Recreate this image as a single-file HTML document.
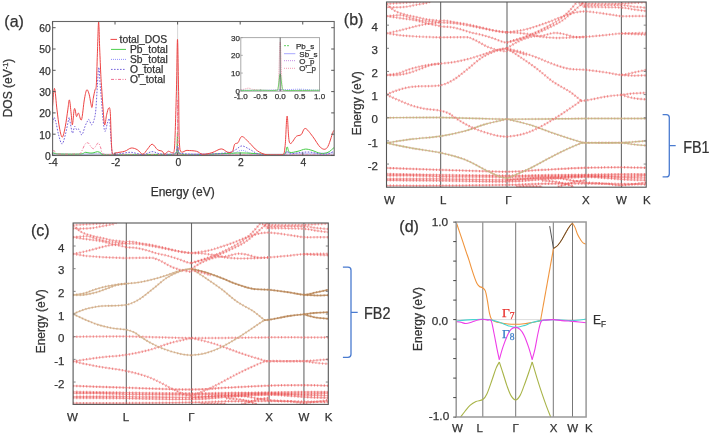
<!DOCTYPE html><html><head><meta charset="utf-8"><style>html,body{margin:0;padding:0;background:#fff;overflow:hidden;}svg{display:block;font-family:"Liberation Sans", sans-serif;}svg{will-change:transform}text{stroke-width:0.25px;}</style></head><body>
<svg width="709" height="433" viewBox="0 0 709 433">
<rect width="709" height="433" fill="#fff"/>
<defs><clipPath id="cb"><rect x="386.5" y="2" width="259.7" height="185.2"/></clipPath><clipPath id="cc"><rect x="73.1" y="223" width="255.2" height="181.4"/></clipPath></defs>
<line x1="177.6" y1="21.5" x2="177.6" y2="155.5" stroke="#999" stroke-width="0.8" stroke-dasharray="1 1"/>
<line x1="53" y1="154.3" x2="334" y2="154.3" stroke="#b8b8c8" stroke-width="1.2"/>
<path d="M52.5,153.37 C55.42,153.51 63.75,154.15 70,154.22 C76.25,154.29 85.23,153.94 90,153.8 C94.77,153.65 94.93,153.19 98.6,153.37 C102.27,153.55 103.43,154.68 112,154.86 C120.57,155 139.33,154.61 150,154.44 C160.67,154.26 171.42,155 176,153.8 C180.58,152.55 177,146.98 177.5,146.98 C178,146.98 175.25,152.66 179,153.8 C182.75,154.93 191.5,153.8 200,153.8 C208.5,153.8 223,154.36 230,153.8 C237,153.23 237.83,150.32 242,150.39 C246.17,150.46 248.17,153.48 255,154.22 C261.83,154.97 277.65,155 283,154.86 C288.35,154.65 284.27,153.19 287.1,152.94 C289.93,152.7 292.18,153.37 300,153.37 C307.82,153.37 328.33,153.01 334,152.94" fill="none" stroke="#8f8fff" stroke-width="0.9" stroke-linejoin="round" stroke-dasharray="1 1"/>
<path d="M52.5,152.73 C52.92,152.84 53.75,153.16 55,153.37 C56.25,153.58 55.8,153.9 60,154.01 C64.2,154.12 76,154.29 80.2,154.01 C84.4,153.72 83.73,152.48 85.2,152.31 C86.67,152.13 87.7,152.84 89,152.94 C90.3,153.05 91.6,153.16 93,152.94 C94.4,152.73 96.1,151.67 97.4,151.67 C98.7,151.67 99.83,152.45 100.8,152.94 C101.77,153.44 100,154.33 103.2,154.65 C106.4,154.97 110.53,154.9 120,154.86 C129.47,154.83 150.7,154.61 160,154.44 C169.3,154.26 172.88,155 175.8,153.8 C178.72,150.17 176.93,132.71 177.5,132.71 C178.07,132.71 175.45,150.14 179.2,153.8 C182.95,155 189.53,154.79 200,154.65 C210.47,154.51 230.33,152.91 242,152.94 C253.67,152.98 263,154.58 270,154.86 C277,155 281.15,155 284,154.65 C286.85,153.33 286.17,147.37 287.1,146.98 C288.03,146.59 287.78,151.59 289.6,152.31 C291.42,153.02 295.38,151.77 298,151.24 C300.62,150.71 302.97,149.25 305.3,149.11 C307.63,148.97 309.43,149.68 312,150.39 C314.57,151.1 318.03,153.05 320.7,153.37 C323.37,153.69 325.78,153.26 328,152.31 C330.22,151.35 333,148.4 334,147.62" fill="none" stroke="#44cc44" stroke-width="1.0" stroke-linejoin="round" />
<path d="M52.5,150.6 C52.92,150.71 54.25,150.71 55,151.24 C55.75,151.77 55.33,153.3 57,153.8 C58.67,154.29 62,154.19 65,154.22 C68,154.26 72.47,154.12 75,154.01 C77.53,153.9 78.5,155 80.2,153.58 C81.9,151.91 83.82,145.74 85.2,144 C86.58,142.26 87.53,142.65 88.5,143.15 C89.47,143.64 90.17,146.06 91,146.98 C91.83,147.9 92.75,148.75 93.5,148.68 C94.25,148.61 94.7,147.51 95.5,146.55 C96.3,145.6 97.42,142.68 98.3,142.93 C99.18,143.18 100.12,146.38 100.8,148.04 C101.48,149.71 100.87,151.84 102.4,152.94 C103.93,154.04 100.4,154.36 110,154.65 C119.6,154.93 149,154.86 160,154.65 C171,154.44 173.08,155 176,153.37 C178.92,144.28 177,100.12 177.5,100.12 C178,100.12 176.92,144.25 179,153.37 C181.08,155 164.17,154.61 190,154.86 C215.83,155 310,154.86 334,154.86" fill="none" stroke="#f07090" stroke-width="0.9" stroke-linejoin="round" stroke-dasharray="3 1.5 1 1.5"/>
<path d="M52.5,123.12 C52.75,122.17 53.4,117.37 54,117.37 C54.6,117.37 55.33,120.21 56.1,123.12 C56.87,126.03 57.62,131.36 58.6,134.84 C59.58,138.32 60.88,144 62,144 C63.12,144 64.2,138.89 65.3,134.84 C66.4,130.79 67.92,122.41 68.6,119.72 C69.28,117.02 68.9,116.95 69.4,118.65 C69.9,120.36 71.05,127.53 71.6,129.94 C72.15,132.35 72.18,133.7 72.7,133.13 C73.22,132.57 74,127.06 74.7,126.53 C75.4,126 76.18,129.48 76.9,129.94 C77.62,130.4 78.17,128.48 79,129.3 C79.83,130.12 80.87,135.41 81.9,134.84 C82.93,134.27 84.23,128.24 85.2,125.89 C86.17,123.55 87.05,121.81 87.7,120.78 C88.35,119.75 88.45,119.04 89.1,119.72 C89.75,120.39 90.77,124.83 91.6,124.83 C92.43,124.83 93.4,122.2 94.1,119.72 C94.8,117.23 95.25,115.67 95.8,109.92 C96.35,104.17 96.9,92.31 97.4,85.21 C97.9,78.11 98.33,67.32 98.8,67.32 C99.27,67.32 99.73,79.49 100.2,85.21 C100.67,90.93 101.15,96.11 101.6,101.61 C102.05,107.11 102.35,113.25 102.9,118.22 C103.45,123.19 104.15,130.61 104.9,131.43 C105.65,132.25 106.63,125.18 107.4,123.12 C108.17,121.06 108.95,117.12 109.5,119.08 C110.05,121.03 110.3,129.48 110.7,134.84 C111.1,140.2 111.48,148.01 111.9,151.24 C112.32,154.47 111.85,153.8 113.2,154.22 C114.55,154.65 117.03,154.12 120,153.8 C122.97,153.48 127.17,152.16 131,152.31 C134.83,152.45 139.5,154.75 143,154.65 C146.5,154.54 149.17,151.81 152,151.67 C154.83,151.52 156.67,153.37 160,153.8 C163.33,154.22 169.33,154.47 172,154.22 C174.67,153.97 175.08,153.69 176,152.31 C176.92,150.92 177,145.91 177.5,145.91 C178,145.91 177.75,150.99 179,152.31 C180.25,153.62 181.5,153.44 185,153.8 C188.5,154.15 195,154.44 200,154.44 C205,154.44 210,154.15 215,153.8 C220,153.44 226.5,153.02 230,152.31 C233.5,151.59 234,150.6 236,149.54 C238,148.47 239.67,145.91 242,145.91 C244.33,145.91 247.33,148.22 250,149.54 C252.67,150.85 254.67,152.87 258,153.8 C261.33,154.72 265.83,154.86 270,155.07 C274.17,155 280.15,155 283,155.07 C285.85,154.44 285.93,151.45 287.1,151.24 C288.27,151.03 287.85,153.58 290,153.8 C292.15,154.01 296.67,152.8 300,152.52 C303.33,152.23 306.67,151.84 310,152.09 C313.33,152.34 317,153.72 320,154.01 C323,154.29 325.67,154.26 328,153.8 C330.33,153.33 333,151.67 334,151.24" fill="none" stroke="#7462dc" stroke-width="1.0" stroke-linejoin="round" stroke-dasharray="1.6 1.4"/>
<path d="M52.5,106.51 C52.83,103.49 53.75,87.84 54.5,88.41 C55.25,88.97 56.17,103.32 57,109.92 C57.83,116.52 58.62,123.48 59.5,128.02 C60.38,132.57 61.33,137.43 62.3,137.18 C63.27,136.93 64.38,131.08 65.3,126.53 C66.22,121.99 67.12,114.36 67.8,109.92 C68.48,105.48 68.85,99.37 69.4,99.91 C69.95,100.44 70.6,108.96 71.1,113.11 C71.6,117.27 71.9,125.36 72.4,124.83 C72.9,124.3 73.63,112.44 74.1,109.92 C74.57,107.4 74.8,108.6 75.2,109.71 C75.6,110.81 75.95,115.95 76.5,116.52 C77.05,117.09 77.67,112.58 78.5,113.11 C79.33,113.65 80.53,121.92 81.5,119.72 C82.47,117.52 83.43,104.88 84.3,99.91 C85.17,94.94 85.9,90.85 86.7,89.9 C87.5,88.94 88.42,91.96 89.1,94.16 C89.78,96.36 90.32,100.9 90.8,103.1 C91.28,105.3 91.58,108.18 92,107.36 C92.42,106.55 92.8,101.11 93.3,98.2 C93.8,95.29 94.5,92.06 95,89.9 C95.5,87.73 95.9,91.32 96.3,85.21 C96.7,79.1 97.02,63.84 97.4,53.26 C97.78,42.68 98.22,22.45 98.6,21.74 C98.98,21.03 99.33,40.2 99.7,49 C100.07,57.8 100.48,68.17 100.8,74.56 C101.12,80.95 101.25,82.02 101.6,87.34 C101.95,92.67 102.4,100.26 102.9,106.51 C103.4,112.76 103.98,123.44 104.6,124.83 C105.22,126.21 105.93,117.59 106.6,114.82 C107.27,112.05 108,108.78 108.6,108.21 C109.2,107.65 109.77,106.44 110.2,111.41 C110.63,116.38 110.9,131.4 111.2,138.03 C111.5,144.67 111.67,148.54 112,151.24 C112.33,153.94 112.58,153.94 113.2,154.22 C113.82,154.51 113.77,153.44 115.7,152.94 C117.63,152.45 122.22,152.06 124.8,151.24 C127.38,150.42 129.1,148.29 131.2,148.04 C133.3,147.8 135.47,148.72 137.4,149.75 C139.33,150.78 141.12,154.33 142.8,154.22 C144.48,154.12 145.93,150.78 147.5,149.11 C149.07,147.44 150.52,144.1 152.2,144.21 C153.88,144.32 155.93,148.58 157.6,149.75 C159.27,150.92 161.03,150.49 162.2,151.24 C163.37,151.99 163.57,154.22 164.6,154.22 C165.63,154.22 167.12,151.49 168.4,151.24 C169.68,150.99 171.28,153.26 172.3,152.73 C173.32,152.2 173.82,155 174.5,148.04 C175.18,137.86 175.9,109.7 176.4,91.6 C176.9,73.5 177.13,39.42 177.5,39.42 C177.87,39.42 178.18,73.21 178.6,91.6 C179.02,109.99 178.58,139.95 180,149.75 C181.42,155 184.37,150.14 187.1,150.39 C189.83,150.64 193.82,150.6 196.4,151.24 C198.98,151.88 200.02,153.97 202.6,154.22 C205.18,154.47 208.8,153.62 211.9,152.73 C215,151.84 218.62,149 221.2,148.9 C223.78,148.79 225.55,151.63 227.4,152.09 C229.25,152.55 231.08,152.98 232.3,151.67 C233.52,150.35 233.75,145.7 234.7,144.21 C235.65,142.72 236.78,144 238,142.72 C239.22,141.44 240.12,136.54 242,136.54 C243.88,136.54 246.73,140.34 249.3,142.72 C251.87,145.1 254.42,148.79 257.4,150.81 C260.38,152.84 263.13,154.19 267.2,154.86 C271.27,155 278.83,155 281.8,154.86 C284.77,153.55 284.12,153.44 285,146.98 C285.88,140.52 286.33,116.8 287.1,116.09 C287.87,115.39 288.05,139.35 289.6,142.72 C291.15,146.09 294.47,137.68 296.4,136.33 C298.33,134.98 299.72,135.94 301.2,134.63 C302.68,133.31 303.4,128.17 305.3,128.45 C307.2,128.73 310.03,133.14 312.6,136.33 C315.17,139.53 318.27,145.74 320.7,147.62 C323.13,149.5 325.17,150.18 327.2,147.62 C329.23,145.06 331.77,135.05 332.9,132.28 C334.03,129.51 333.82,131.22 334,131" fill="none" stroke="#ee4444" stroke-width="1.0" stroke-linejoin="round" />
<rect x="52.6" y="21.5" width="281.6" height="134" fill="none" stroke="#666" stroke-width="1.1"/>
<line x1="52.6" y1="155.5" x2="55.6" y2="155.5" stroke="#555" stroke-width="1"/>
<line x1="331.2" y1="155.5" x2="334.2" y2="155.5" stroke="#555" stroke-width="1"/>
<text x="50.8" y="159.8" font-size="10.3" text-anchor="end" fill="#333" stroke="#333" >0</text>
<line x1="52.6" y1="134.2" x2="55.6" y2="134.2" stroke="#555" stroke-width="1"/>
<line x1="331.2" y1="134.2" x2="334.2" y2="134.2" stroke="#555" stroke-width="1"/>
<text x="50.8" y="138.5" font-size="10.3" text-anchor="end" fill="#333" stroke="#333" >10</text>
<line x1="52.6" y1="112.9" x2="55.6" y2="112.9" stroke="#555" stroke-width="1"/>
<line x1="331.2" y1="112.9" x2="334.2" y2="112.9" stroke="#555" stroke-width="1"/>
<text x="50.8" y="117.2" font-size="10.3" text-anchor="end" fill="#333" stroke="#333" >20</text>
<line x1="52.6" y1="91.6" x2="55.6" y2="91.6" stroke="#555" stroke-width="1"/>
<line x1="331.2" y1="91.6" x2="334.2" y2="91.6" stroke="#555" stroke-width="1"/>
<text x="50.8" y="95.9" font-size="10.3" text-anchor="end" fill="#333" stroke="#333" >30</text>
<line x1="52.6" y1="70.3" x2="55.6" y2="70.3" stroke="#555" stroke-width="1"/>
<line x1="331.2" y1="70.3" x2="334.2" y2="70.3" stroke="#555" stroke-width="1"/>
<text x="50.8" y="74.6" font-size="10.3" text-anchor="end" fill="#333" stroke="#333" >40</text>
<line x1="52.6" y1="49" x2="55.6" y2="49" stroke="#555" stroke-width="1"/>
<line x1="331.2" y1="49" x2="334.2" y2="49" stroke="#555" stroke-width="1"/>
<text x="50.8" y="53.3" font-size="10.3" text-anchor="end" fill="#333" stroke="#333" >50</text>
<line x1="52.6" y1="27.7" x2="55.6" y2="27.7" stroke="#555" stroke-width="1"/>
<line x1="331.2" y1="27.7" x2="334.2" y2="27.7" stroke="#555" stroke-width="1"/>
<text x="50.8" y="32" font-size="10.3" text-anchor="end" fill="#333" stroke="#333" >60</text>
<line x1="52.44" y1="21.5" x2="52.44" y2="24.5" stroke="#555" stroke-width="1"/>
<line x1="52.44" y1="152.5" x2="52.44" y2="155.5" stroke="#555" stroke-width="1"/>
<text x="53.14" y="166.3" font-size="10.3" text-anchor="middle" fill="#333" stroke="#333" >-4</text>
<line x1="115.02" y1="21.5" x2="115.02" y2="24.5" stroke="#555" stroke-width="1"/>
<line x1="115.02" y1="152.5" x2="115.02" y2="155.5" stroke="#555" stroke-width="1"/>
<text x="115.72" y="166.3" font-size="10.3" text-anchor="middle" fill="#333" stroke="#333" >-2</text>
<line x1="177.6" y1="21.5" x2="177.6" y2="24.5" stroke="#555" stroke-width="1"/>
<line x1="177.6" y1="152.5" x2="177.6" y2="155.5" stroke="#555" stroke-width="1"/>
<text x="178.3" y="166.3" font-size="10.3" text-anchor="middle" fill="#333" stroke="#333" >0</text>
<line x1="240.18" y1="21.5" x2="240.18" y2="24.5" stroke="#555" stroke-width="1"/>
<line x1="240.18" y1="152.5" x2="240.18" y2="155.5" stroke="#555" stroke-width="1"/>
<text x="240.88" y="166.3" font-size="10.3" text-anchor="middle" fill="#333" stroke="#333" >2</text>
<line x1="302.76" y1="21.5" x2="302.76" y2="24.5" stroke="#555" stroke-width="1"/>
<line x1="302.76" y1="152.5" x2="302.76" y2="155.5" stroke="#555" stroke-width="1"/>
<text x="303.46" y="166.3" font-size="10.3" text-anchor="middle" fill="#333" stroke="#333" >4</text>
<line x1="110.5" y1="39.4" x2="117" y2="39.4" stroke="#ee4444" stroke-width="1"/>
<text x="119.6" y="43" font-size="10.3" text-anchor="start" fill="#333" stroke="#333" >total_DOS</text>
<line x1="111" y1="49.4" x2="126" y2="49.4" stroke="#4ccf4c" stroke-width="1" />
<text x="130" y="53" font-size="10.3" text-anchor="start" fill="#333" stroke="#333" >Pb_total</text>
<line x1="111" y1="59.4" x2="126" y2="59.4" stroke="#8f8fff" stroke-width="1" stroke-dasharray="1 1"/>
<text x="130" y="63" font-size="10.3" text-anchor="start" fill="#333" stroke="#333" >Sb_total</text>
<line x1="111" y1="69.4" x2="126" y2="69.4" stroke="#7462dc" stroke-width="1" stroke-dasharray="1.6 1.4"/>
<text x="130" y="73" font-size="10.3" text-anchor="start" fill="#333" stroke="#333" >O_total</text>
<line x1="111" y1="79.4" x2="126" y2="79.4" stroke="#f07090" stroke-width="1" stroke-dasharray="3 1.5 1 1.5"/>
<text x="130" y="83" font-size="10.3" text-anchor="start" fill="#333" stroke="#333" >O'_total</text>
<rect x="240.8" y="37.6" width="78.7" height="53.6" fill="#fff" stroke="#aaa" stroke-width="1"/>
<line x1="240.8" y1="90.8" x2="242.8" y2="90.8" stroke="#999" stroke-width="0.8"/>
<text x="240" y="93.8" font-size="8" text-anchor="end" fill="#333" stroke="#333" >0</text>
<line x1="240.8" y1="73.07" x2="242.8" y2="73.07" stroke="#999" stroke-width="0.8"/>
<text x="240" y="76.07" font-size="8" text-anchor="end" fill="#333" stroke="#333" >10</text>
<line x1="240.8" y1="55.34" x2="242.8" y2="55.34" stroke="#999" stroke-width="0.8"/>
<text x="240" y="58.34" font-size="8" text-anchor="end" fill="#333" stroke="#333" >20</text>
<line x1="240.8" y1="37.61" x2="242.8" y2="37.61" stroke="#999" stroke-width="0.8"/>
<text x="240" y="40.61" font-size="8" text-anchor="end" fill="#333" stroke="#333" >30</text>
<line x1="240.85" y1="89.2" x2="240.85" y2="91.2" stroke="#999" stroke-width="0.8"/>
<text x="240.85" y="99" font-size="8" text-anchor="middle" fill="#333" stroke="#333" >-1.0</text>
<line x1="260.52" y1="89.2" x2="260.52" y2="91.2" stroke="#999" stroke-width="0.8"/>
<text x="260.52" y="99" font-size="8" text-anchor="middle" fill="#333" stroke="#333" >-0.5</text>
<line x1="280.2" y1="89.2" x2="280.2" y2="91.2" stroke="#999" stroke-width="0.8"/>
<text x="280.2" y="99" font-size="8" text-anchor="middle" fill="#333" stroke="#333" >0.0</text>
<line x1="299.88" y1="89.2" x2="299.88" y2="91.2" stroke="#999" stroke-width="0.8"/>
<text x="299.88" y="99" font-size="8" text-anchor="middle" fill="#333" stroke="#333" >0.5</text>
<line x1="319.55" y1="89.2" x2="319.55" y2="91.2" stroke="#999" stroke-width="0.8"/>
<text x="319.55" y="99" font-size="8" text-anchor="middle" fill="#333" stroke="#333" >1.0</text>
<path d="M240.85,89.91 C241.51,89.77 243.47,89.32 244.78,89.03 C246.1,88.73 247.41,88.08 248.72,88.14 C250.03,88.2 250.03,89.03 252.66,89.38 C255.28,89.74 260.52,90.15 264.46,90.27 C268.39,90.39 273.97,90.45 276.26,90.09 C278.56,89.74 277.58,90.8 278.23,88.14 C278.89,80.13 279.54,42.04 280.2,42.04 C280.86,42.04 281.51,80.1 282.17,88.14 C282.82,90.8 277.9,89.88 284.13,90.27 C290.37,90.65 313.65,90.42 319.55,90.45" fill="none" stroke="#f090a8" stroke-width="0.9" stroke-dasharray="1 1"/>
<path d="M240.85,90.27 C244.13,90.27 253.31,90.36 260.52,90.27 C267.74,90.18 277.58,89.91 284.13,89.74 C290.69,89.56 295.28,89.17 299.88,89.2 C304.47,89.23 308.4,89.74 311.68,89.91 C314.96,90.09 318.24,90.21 319.55,90.27" fill="none" stroke="#9090ff" stroke-width="0.9" stroke-dasharray="1 1"/>
<path d="M240.85,90.45 C244.13,90.42 254.62,90.3 260.52,90.27 C266.43,90.24 273.31,90.77 276.26,90.27 C279.22,89.77 277.58,89.97 278.23,87.25 C278.89,84.54 279.54,73.96 280.2,73.96 C280.86,73.96 281.51,84.54 282.17,87.25 C282.82,89.97 281.18,89.74 284.13,90.27 C287.09,90.8 293.97,90.45 299.88,90.45 C305.78,90.45 316.27,90.3 319.55,90.27" fill="none" stroke="#5cd05c" stroke-width="0.9" />
<line x1="280.2" y1="37.6" x2="280.2" y2="91.2" stroke="#444" stroke-width="0.8"/>
<line x1="284" y1="45.7" x2="289" y2="45.7" stroke="#60d060" stroke-width="1" stroke-dasharray="2 1"/>
<line x1="284" y1="53.7" x2="295.3" y2="53.7" stroke="#9090ff" stroke-width="0.8"/>
<line x1="284" y1="60.7" x2="295.3" y2="60.7" stroke="#c080e0" stroke-width="0.9" stroke-dasharray="1 1"/>
<line x1="284" y1="68.3" x2="295.3" y2="68.3" stroke="#f090a8" stroke-width="0.9" stroke-dasharray="1 1"/>
<text x="296" y="48.6" font-size="8" text-anchor="start" fill="#333" stroke="#333" >Pb_s</text>
<text x="299.3" y="56.6" font-size="8" text-anchor="start" fill="#333" stroke="#333" >Sb_s</text>
<text x="299.3" y="63.6" font-size="8" text-anchor="start" fill="#333" stroke="#333" >O_p</text>
<text x="299.3" y="71.2" font-size="8" text-anchor="start" fill="#333" stroke="#333" >O'_p</text>
<text x="4.3" y="26.5" font-size="16" text-anchor="start" fill="#333" stroke="#333" >(a)</text>
<text x="182.7" y="195.5" font-size="12" text-anchor="middle" fill="#333" stroke="#333" >Energy (eV)</text>
<text transform="translate(12.2,88) rotate(-90)" font-size="12" text-anchor="middle" fill="#333" stroke="#333">DOS (eV<tspan font-size="7.5" dy="-4.5">-1</tspan><tspan dy="4.5">)</tspan></text>
<line x1="440.65" y1="2.0" x2="440.65" y2="187.2" stroke="#6a6a6a" stroke-width="1.1"/>
<line x1="507" y1="2.0" x2="507" y2="187.2" stroke="#6a6a6a" stroke-width="1.1"/>
<line x1="585.95" y1="2.0" x2="585.95" y2="187.2" stroke="#6a6a6a" stroke-width="1.1"/>
<line x1="621.4" y1="2.0" x2="621.4" y2="187.2" stroke="#6a6a6a" stroke-width="1.1"/>
<g fill="none" stroke-linecap="butt" clip-path="url(#cb)">
<path d="M386.5,167.99 C395.46,168.29 420.17,169.22 440.26,169.84 C460.34,170.45 489.99,171.69 507,171.69 C524.01,171.69 529.16,170.49 542.32,169.84 C555.48,169.18 572.79,168.18 585.95,167.75 C599.11,167.33 611.23,167.29 621.27,167.29 C631.31,167.29 642.04,167.68 646.2,167.75" stroke="#f08080" stroke-width="1.3" opacity="0.6"/>
<path d="M386.5,167.99 C395.46,168.29 420.17,169.22 440.26,169.84 C460.34,170.45 489.99,171.69 507,171.69 C524.01,171.69 529.16,170.49 542.32,169.84 C555.48,169.18 572.79,168.18 585.95,167.75 C599.11,167.33 611.23,167.29 621.27,167.29 C631.31,167.29 642.04,167.68 646.2,167.75" stroke="#e83838" stroke-width="2.5" stroke-dasharray="1 2.3" opacity="0.55"/>
<path d="M386.5,174 C395.46,174.16 420.17,174.66 440.26,174.93 C460.34,175.2 489.99,175.59 507,175.62 C524.01,175.66 529.16,175.32 542.32,175.16 C555.48,175.01 572.79,174.85 585.95,174.7 C599.11,174.54 611.23,174.31 621.27,174.24 C631.31,174.16 642.04,174.24 646.2,174.24" stroke="#f08080" stroke-width="1.3" opacity="0.6"/>
<path d="M386.5,174 C395.46,174.16 420.17,174.66 440.26,174.93 C460.34,175.2 489.99,175.59 507,175.62 C524.01,175.66 529.16,175.32 542.32,175.16 C555.48,175.01 572.79,174.85 585.95,174.7 C599.11,174.54 611.23,174.31 621.27,174.24 C631.31,174.16 642.04,174.24 646.2,174.24" stroke="#e83838" stroke-width="2.5" stroke-dasharray="1 2.3" opacity="0.55"/>
<path d="M386.5,175.62 C390.83,175.62 403.51,175.47 412.47,175.62 C421.43,175.78 424.5,176.32 440.26,176.55 C456.01,176.78 489.99,177.05 507,177.01 C524.01,176.98 529.16,176.51 542.32,176.32 C555.48,176.13 572.79,175.9 585.95,175.86 C599.11,175.82 611.23,176.13 621.27,176.09 C631.31,176.05 642.04,175.7 646.2,175.62" stroke="#f08080" stroke-width="1.3" opacity="0.6"/>
<path d="M386.5,175.62 C390.83,175.62 403.51,175.47 412.47,175.62 C421.43,175.78 424.5,176.32 440.26,176.55 C456.01,176.78 489.99,177.05 507,177.01 C524.01,176.98 529.16,176.51 542.32,176.32 C555.48,176.13 572.79,175.9 585.95,175.86 C599.11,175.82 611.23,176.13 621.27,176.09 C631.31,176.05 642.04,175.7 646.2,175.62" stroke="#e83838" stroke-width="2.5" stroke-dasharray="1 2.3" opacity="0.55"/>
<path d="M386.5,178.87 C395.46,178.87 420.17,178.71 440.26,178.87 C460.34,179.02 489.99,179.95 507,179.79 C524.01,179.64 529.16,178.56 542.32,177.94 C555.48,177.32 572.79,176.17 585.95,176.09 C599.11,176.01 611.23,177.17 621.27,177.48 C631.31,177.79 642.04,177.86 646.2,177.94" stroke="#f08080" stroke-width="1.3" opacity="0.6"/>
<path d="M386.5,178.87 C395.46,178.87 420.17,178.71 440.26,178.87 C460.34,179.02 489.99,179.95 507,179.79 C524.01,179.64 529.16,178.56 542.32,177.94 C555.48,177.32 572.79,176.17 585.95,176.09 C599.11,176.01 611.23,177.17 621.27,177.48 C631.31,177.79 642.04,177.86 646.2,177.94" stroke="#e83838" stroke-width="2.5" stroke-dasharray="1 2.3" opacity="0.55"/>
<path d="M386.5,180.25 C395.46,180.33 420.17,180.49 440.26,180.72 C460.34,180.95 489.99,181.88 507,181.64 C524.01,181.41 529.16,180.1 542.32,179.33 C555.48,178.56 572.79,177.01 585.95,177.01 C599.11,177.01 611.23,178.79 621.27,179.33 C631.31,179.87 642.04,180.1 646.2,180.25" stroke="#f08080" stroke-width="1.3" opacity="0.6"/>
<path d="M386.5,180.25 C395.46,180.33 420.17,180.49 440.26,180.72 C460.34,180.95 489.99,181.88 507,181.64 C524.01,181.41 529.16,180.1 542.32,179.33 C555.48,178.56 572.79,177.01 585.95,177.01 C599.11,177.01 611.23,178.79 621.27,179.33 C631.31,179.87 642.04,180.1 646.2,180.25" stroke="#e83838" stroke-width="2.5" stroke-dasharray="1 2.3" opacity="0.55"/>
<path d="M386.5,185.58 C395.46,185.58 420.17,185.7 440.26,185.58 C460.34,185.46 489.99,185.19 507,184.88 C524.01,184.58 529.16,183.96 542.32,183.73 C555.48,183.5 572.79,183.46 585.95,183.5 C599.11,183.53 611.23,183.8 621.27,183.96 C631.31,184.11 642.04,184.34 646.2,184.42" stroke="#f08080" stroke-width="1.3" opacity="0.6"/>
<path d="M386.5,185.58 C395.46,185.58 420.17,185.7 440.26,185.58 C460.34,185.46 489.99,185.19 507,184.88 C524.01,184.58 529.16,183.96 542.32,183.73 C555.48,183.5 572.79,183.46 585.95,183.5 C599.11,183.53 611.23,183.8 621.27,183.96 C631.31,184.11 642.04,184.34 646.2,184.42" stroke="#e83838" stroke-width="2.5" stroke-dasharray="1 2.3" opacity="0.55"/>
<path d="M507,179.79 C510.72,179.56 521.28,178.71 529.34,178.4 C537.39,178.09 547.95,177.55 555.31,177.94 C562.66,178.33 568.38,179.95 573.48,180.72 C578.59,181.49 580.32,182.07 585.95,182.57 C591.58,183.07 601.36,183.26 607.25,183.73 C613.13,184.19 614.78,185.54 621.27,185.35 C627.76,185.16 642.04,183.03 646.2,182.57" stroke="#f08080" stroke-width="1.3" opacity="0.6"/>
<path d="M507,179.79 C510.72,179.56 521.28,178.71 529.34,178.4 C537.39,178.09 547.95,177.55 555.31,177.94 C562.66,178.33 568.38,179.95 573.48,180.72 C578.59,181.49 580.32,182.07 585.95,182.57 C591.58,183.07 601.36,183.26 607.25,183.73 C613.13,184.19 614.78,185.54 621.27,185.35 C627.76,185.16 642.04,183.03 646.2,182.57" stroke="#e83838" stroke-width="2.5" stroke-dasharray="1 2.3" opacity="0.55"/>
<path d="M557.9,186.74 C559.63,186.24 565.26,184.61 568.29,183.73 C571.32,182.84 573.14,181.99 576.08,181.41 C579.02,180.83 584.3,180.45 585.95,180.25" stroke="#f08080" stroke-width="1.3" opacity="0.6"/>
<path d="M557.9,186.74 C559.63,186.24 565.26,184.61 568.29,183.73 C571.32,182.84 573.14,181.99 576.08,181.41 C579.02,180.83 584.3,180.45 585.95,180.25" stroke="#e83838" stroke-width="2.5" stroke-dasharray="1 2.3" opacity="0.55"/>
<path d="M542.32,180.72 C544.92,180.95 553.57,181.41 557.9,182.11 C562.23,182.8 565.69,184.11 568.29,184.88 C570.89,185.66 572.62,186.43 573.48,186.74" stroke="#f08080" stroke-width="1.3" opacity="0.6"/>
<path d="M542.32,180.72 C544.92,180.95 553.57,181.41 557.9,182.11 C562.23,182.8 565.69,184.11 568.29,184.88 C570.89,185.66 572.62,186.43 573.48,186.74" stroke="#e83838" stroke-width="2.5" stroke-dasharray="1 2.3" opacity="0.55"/>
<path d="M516.35,186.51 C518.51,186.47 525.01,186.27 529.34,186.27 C533.66,186.27 540.16,186.47 542.32,186.51" stroke="#f08080" stroke-width="1.3" opacity="0.6"/>
<path d="M516.35,186.51 C518.51,186.47 525.01,186.27 529.34,186.27 C533.66,186.27 540.16,186.47 542.32,186.51" stroke="#e83838" stroke-width="2.5" stroke-dasharray="1 2.3" opacity="0.55"/>
<path d="M386.5,117.75 C395.46,117.71 420.17,117.29 440.26,117.52 C460.34,117.75 482.72,118.98 507,119.14 C531.28,119.29 566.9,118.56 585.95,118.44 C604.99,118.33 611.23,118.44 621.27,118.44 C631.31,118.44 642.04,118.44 646.2,118.44" stroke="#c4c088" stroke-width="1.4" opacity="0.9"/>
<path d="M386.5,117.75 C395.46,117.71 420.17,117.29 440.26,117.52 C460.34,117.75 482.72,118.98 507,119.14 C531.28,119.29 566.9,118.56 585.95,118.44 C604.99,118.33 611.23,118.44 621.27,118.44 C631.31,118.44 642.04,118.44 646.2,118.44" stroke="#e07878" stroke-width="2.4" stroke-dasharray="1 2.3" opacity="0.45"/>
<path d="M386.5,142.98 C390.83,142.33 403.51,140.17 412.47,139.05 C421.43,137.93 431.6,137.58 440.26,136.27 C448.91,134.96 456.92,133.18 464.41,131.18 C471.9,129.17 478.09,126.24 485.19,124.23 C492.28,122.23 503.37,119.99 507,119.14" stroke="#c4c088" stroke-width="1.4" opacity="0.9"/>
<path d="M386.5,142.98 C390.83,142.33 403.51,140.17 412.47,139.05 C421.43,137.93 431.6,137.58 440.26,136.27 C448.91,134.96 456.92,133.18 464.41,131.18 C471.9,129.17 478.09,126.24 485.19,124.23 C492.28,122.23 503.37,119.99 507,119.14" stroke="#e07878" stroke-width="2.4" stroke-dasharray="1 2.3" opacity="0.45"/>
<path d="M386.5,142.98 C390.83,143.87 403.51,146.69 412.47,148.31 C421.43,149.93 431.6,150.85 440.26,152.71 C448.91,154.56 456.92,156.56 464.41,159.42 C471.9,162.28 479.56,167.06 485.19,169.84 C490.81,172.62 494.54,174.66 498.17,176.09 C501.81,177.52 505.53,178.02 507,178.4" stroke="#c4c088" stroke-width="1.4" opacity="0.9"/>
<path d="M386.5,142.98 C390.83,143.87 403.51,146.69 412.47,148.31 C421.43,149.93 431.6,150.85 440.26,152.71 C448.91,154.56 456.92,156.56 464.41,159.42 C471.9,162.28 479.56,167.06 485.19,169.84 C490.81,172.62 494.54,174.66 498.17,176.09 C501.81,177.52 505.53,178.02 507,178.4" stroke="#e07878" stroke-width="2.4" stroke-dasharray="1 2.3" opacity="0.45"/>
<path d="M507,119.14 C510.72,120.06 521.28,122.23 529.34,124.69 C537.39,127.16 547.08,131.18 555.31,133.95 C563.53,136.73 573.57,139.9 578.68,141.36 C583.79,142.83 581.19,142.52 585.95,142.75 C590.71,142.98 601.36,142.75 607.25,142.75 C613.13,142.75 616.94,142.91 621.27,142.75 C625.6,142.6 629.06,142.13 633.22,141.83 C637.37,141.52 644.04,141.05 646.2,140.9" stroke="#c4c088" stroke-width="1.4" opacity="0.9"/>
<path d="M507,119.14 C510.72,120.06 521.28,122.23 529.34,124.69 C537.39,127.16 547.08,131.18 555.31,133.95 C563.53,136.73 573.57,139.9 578.68,141.36 C583.79,142.83 581.19,142.52 585.95,142.75 C590.71,142.98 601.36,142.75 607.25,142.75 C613.13,142.75 616.94,142.91 621.27,142.75 C625.6,142.6 629.06,142.13 633.22,141.83 C637.37,141.52 644.04,141.05 646.2,140.9" stroke="#e07878" stroke-width="2.4" stroke-dasharray="1 2.3" opacity="0.45"/>
<path d="M507,178.4 C510.72,176.78 521.28,172.62 529.34,168.68 C537.39,164.74 547.08,158.88 555.31,154.79 C563.53,150.7 573.57,146.15 578.68,144.14 C583.79,142.13 581.19,142.98 585.95,142.75 C590.71,142.52 601.36,142.75 607.25,142.75 C613.13,142.75 616.94,142.48 621.27,142.75 C625.6,143.02 629.06,143.91 633.22,144.37 C637.37,144.84 644.04,145.34 646.2,145.53" stroke="#c4c088" stroke-width="1.4" opacity="0.9"/>
<path d="M507,178.4 C510.72,176.78 521.28,172.62 529.34,168.68 C537.39,164.74 547.08,158.88 555.31,154.79 C563.53,150.7 573.57,146.15 578.68,144.14 C583.79,142.13 581.19,142.98 585.95,142.75 C590.71,142.52 601.36,142.75 607.25,142.75 C613.13,142.75 616.94,142.48 621.27,142.75 C625.6,143.02 629.06,143.91 633.22,144.37 C637.37,144.84 644.04,145.34 646.2,145.53" stroke="#e07878" stroke-width="2.4" stroke-dasharray="1 2.3" opacity="0.45"/>
<path d="M386.5,94.6 C387.89,95.26 392.08,97.3 394.81,98.54 C397.54,99.77 400.18,100.89 402.86,102.01 C405.54,103.13 408.18,104.32 410.91,105.25 C413.64,106.17 416.45,106.91 419.22,107.56 C421.99,108.22 424.03,108.68 427.53,109.18 C431.04,109.69 436.71,109.88 440.26,110.57 C443.81,111.27 446.58,112.31 448.83,113.35 C451.08,114.39 451.17,115.13 453.76,116.82 C456.36,118.52 460.47,121.38 464.41,123.54 C468.35,125.7 472.2,127.82 477.39,129.79 C482.59,131.76 490.64,134.19 495.57,135.34 C500.51,136.5 505.1,136.5 507,136.73" stroke="#f29a9a" stroke-width="1.2" opacity="0.6"/>
<path d="M386.5,94.6 C387.89,95.26 392.08,97.3 394.81,98.54 C397.54,99.77 400.18,100.89 402.86,102.01 C405.54,103.13 408.18,104.32 410.91,105.25 C413.64,106.17 416.45,106.91 419.22,107.56 C421.99,108.22 424.03,108.68 427.53,109.18 C431.04,109.69 436.71,109.88 440.26,110.57 C443.81,111.27 446.58,112.31 448.83,113.35 C451.08,114.39 451.17,115.13 453.76,116.82 C456.36,118.52 460.47,121.38 464.41,123.54 C468.35,125.7 472.2,127.82 477.39,129.79 C482.59,131.76 490.64,134.19 495.57,135.34 C500.51,136.5 505.1,136.5 507,136.73" stroke="#ea4040" stroke-width="2.5" stroke-dasharray="1 2.3" opacity="0.5"/>
<path d="M507,136.73 C509.42,136.35 516.78,135.65 521.54,134.42 C526.31,133.18 529.85,132.1 535.57,129.32 C541.28,126.55 548.25,122.5 555.82,117.75 C563.4,113 576.82,103.67 581.02,100.85" stroke="#f29a9a" stroke-width="1.2" opacity="0.6"/>
<path d="M507,136.73 C509.42,136.35 516.78,135.65 521.54,134.42 C526.31,133.18 529.85,132.1 535.57,129.32 C541.28,126.55 548.25,122.5 555.82,117.75 C563.4,113 576.82,103.67 581.02,100.85" stroke="#ea4040" stroke-width="2.5" stroke-dasharray="1 2.3" opacity="0.5"/>
<path d="M386.5,94.6 C387.89,94.02 392.08,92.13 394.81,91.13 C397.54,90.12 400.18,89.28 402.86,88.58 C405.54,87.89 408.18,87.35 410.91,86.96 C413.64,86.57 414.33,86.54 419.22,86.27 C424.11,86 434.54,86.42 440.26,85.34 C445.97,84.26 448.96,82.48 453.5,79.78 C458.05,77.08 462.85,72.8 467.53,69.13 C472.2,65.47 476.83,60.84 481.55,57.79 C486.27,54.74 491.59,52.43 495.83,50.85 C500.08,49.26 505.14,48.72 507,48.3" stroke="#f29a9a" stroke-width="1.2" opacity="0.6"/>
<path d="M386.5,94.6 C387.89,94.02 392.08,92.13 394.81,91.13 C397.54,90.12 400.18,89.28 402.86,88.58 C405.54,87.89 408.18,87.35 410.91,86.96 C413.64,86.57 414.33,86.54 419.22,86.27 C424.11,86 434.54,86.42 440.26,85.34 C445.97,84.26 448.96,82.48 453.5,79.78 C458.05,77.08 462.85,72.8 467.53,69.13 C472.2,65.47 476.83,60.84 481.55,57.79 C486.27,54.74 491.59,52.43 495.83,50.85 C500.08,49.26 505.14,48.72 507,48.3" stroke="#ea4040" stroke-width="2.5" stroke-dasharray="1 2.3" opacity="0.5"/>
<path d="M507,48.3 C509.38,49.88 516.22,54.32 521.28,57.79 C526.35,61.26 532.02,65.08 537.39,69.13 C542.75,73.19 548.12,78.36 553.49,82.1 C558.85,85.84 565,88.5 569.59,91.59 C574.18,94.68 579.11,99.11 581.02,100.62" stroke="#f29a9a" stroke-width="1.2" opacity="0.6"/>
<path d="M507,48.3 C509.38,49.88 516.22,54.32 521.28,57.79 C526.35,61.26 532.02,65.08 537.39,69.13 C542.75,73.19 548.12,78.36 553.49,82.1 C558.85,85.84 565,88.5 569.59,91.59 C574.18,94.68 579.11,99.11 581.02,100.62" stroke="#ea4040" stroke-width="2.5" stroke-dasharray="1 2.3" opacity="0.5"/>
<path d="M386.5,74.92 C388.45,74.65 394.29,74.27 398.19,73.3 C402.08,72.34 405.98,70.33 409.87,69.13 C413.77,67.94 418.1,66.9 421.56,66.13 C425.02,65.35 427.53,64.93 430.65,64.51 C433.77,64.08 436.45,63.96 440.26,63.58 C444.07,63.19 448.96,62.92 453.5,62.19 C458.05,61.46 462.85,60.38 467.53,59.18 C472.2,57.98 476.83,56.52 481.55,55.01 C486.27,53.51 491.59,51.27 495.83,50.15 C500.08,49.03 505.14,48.61 507,48.3" stroke="#f29a9a" stroke-width="1.2" opacity="0.6"/>
<path d="M386.5,74.92 C388.45,74.65 394.29,74.27 398.19,73.3 C402.08,72.34 405.98,70.33 409.87,69.13 C413.77,67.94 418.1,66.9 421.56,66.13 C425.02,65.35 427.53,64.93 430.65,64.51 C433.77,64.08 436.45,63.96 440.26,63.58 C444.07,63.19 448.96,62.92 453.5,62.19 C458.05,61.46 462.85,60.38 467.53,59.18 C472.2,57.98 476.83,56.52 481.55,55.01 C486.27,53.51 491.59,51.27 495.83,50.15 C500.08,49.03 505.14,48.61 507,48.3" stroke="#ea4040" stroke-width="2.5" stroke-dasharray="1 2.3" opacity="0.5"/>
<path d="M386.5,75.39 C388.45,75.31 394.29,75.39 398.19,74.92 C402.08,74.46 405.98,73.69 409.87,72.61 C413.77,71.53 418.1,69.68 421.56,68.44 C425.02,67.21 427.53,66.01 430.65,65.2 C433.77,64.39 438.66,63.85 440.26,63.58" stroke="#f29a9a" stroke-width="1.2" opacity="0.6"/>
<path d="M386.5,75.39 C388.45,75.31 394.29,75.39 398.19,74.92 C402.08,74.46 405.98,73.69 409.87,72.61 C413.77,71.53 418.1,69.68 421.56,68.44 C425.02,67.21 427.53,66.01 430.65,65.2 C433.77,64.39 438.66,63.85 440.26,63.58" stroke="#ea4040" stroke-width="2.5" stroke-dasharray="1 2.3" opacity="0.5"/>
<path d="M507,48.3 C509.38,48.92 516.22,50.42 521.28,52 C526.35,53.59 532.02,55.75 537.39,57.79 C542.75,59.84 548.12,62.42 553.49,64.27 C558.85,66.13 564.13,67.98 569.59,68.9 C575.04,69.83 579.93,69.21 586.21,69.83 C592.49,70.45 601.4,71.76 607.25,72.61 C613.09,73.46 616.94,74.92 621.27,74.92 C625.6,74.92 629.06,73.46 633.22,72.61 C637.37,71.76 644.04,70.29 646.2,69.83" stroke="#f29a9a" stroke-width="1.2" opacity="0.6"/>
<path d="M507,48.3 C509.38,48.92 516.22,50.42 521.28,52 C526.35,53.59 532.02,55.75 537.39,57.79 C542.75,59.84 548.12,62.42 553.49,64.27 C558.85,66.13 564.13,67.98 569.59,68.9 C575.04,69.83 579.93,69.21 586.21,69.83 C592.49,70.45 601.4,71.76 607.25,72.61 C613.09,73.46 616.94,74.92 621.27,74.92 C625.6,74.92 629.06,73.46 633.22,72.61 C637.37,71.76 644.04,70.29 646.2,69.83" stroke="#ea4040" stroke-width="2.5" stroke-dasharray="1 2.3" opacity="0.5"/>
<path d="M621.27,74.92 C623.26,75.04 629.06,75.54 633.22,75.62 C637.37,75.69 644.04,75.42 646.2,75.39" stroke="#f29a9a" stroke-width="1.2" opacity="0.6"/>
<path d="M621.27,74.92 C623.26,75.04 629.06,75.54 633.22,75.62 C637.37,75.69 644.04,75.42 646.2,75.39" stroke="#ea4040" stroke-width="2.5" stroke-dasharray="1 2.3" opacity="0.5"/>
<path d="M581.02,100.85 C581.88,100.77 581.84,101.12 586.21,100.39 C590.58,99.65 601.4,97.38 607.25,96.45 C613.09,95.53 616.94,95.33 621.27,94.83 C625.6,94.33 629.06,93.79 633.22,93.44 C637.37,93.1 644.04,92.86 646.2,92.75" stroke="#f29a9a" stroke-width="1.2" opacity="0.6"/>
<path d="M581.02,100.85 C581.88,100.77 581.84,101.12 586.21,100.39 C590.58,99.65 601.4,97.38 607.25,96.45 C613.09,95.53 616.94,95.33 621.27,94.83 C625.6,94.33 629.06,93.79 633.22,93.44 C637.37,93.1 644.04,92.86 646.2,92.75" stroke="#ea4040" stroke-width="2.5" stroke-dasharray="1 2.3" opacity="0.5"/>
<path d="M621.27,94.83 C623.26,95.37 629.06,97.3 633.22,98.07 C637.37,98.84 644.04,99.23 646.2,99.46" stroke="#f29a9a" stroke-width="1.2" opacity="0.6"/>
<path d="M621.27,94.83 C623.26,95.37 629.06,97.3 633.22,98.07 C637.37,98.84 644.04,99.23 646.2,99.46" stroke="#ea4040" stroke-width="2.5" stroke-dasharray="1 2.3" opacity="0.5"/>
<path d="M386.5,3.85 C389.1,3.7 395.42,3.35 402.08,2.93 C408.75,2.5 422.43,1.58 426.49,1.31" stroke="#f29a9a" stroke-width="1.2" opacity="0.6"/>
<path d="M386.5,3.85 C389.1,3.7 395.42,3.35 402.08,2.93 C408.75,2.5 422.43,1.58 426.49,1.31" stroke="#ea4040" stroke-width="2.5" stroke-dasharray="1 2.3" opacity="0.5"/>
<path d="M386.5,7.32 C388.23,7.32 393.43,7.44 396.89,7.32 C400.35,7.21 404.25,7.02 407.28,6.63 C410.31,6.24 412.04,5.59 415.07,5.01 C418.1,4.43 422.86,3.74 425.45,3.16 C428.05,2.58 429.78,1.81 430.65,1.54" stroke="#f29a9a" stroke-width="1.2" opacity="0.6"/>
<path d="M386.5,7.32 C388.23,7.32 393.43,7.44 396.89,7.32 C400.35,7.21 404.25,7.02 407.28,6.63 C410.31,6.24 412.04,5.59 415.07,5.01 C418.1,4.43 422.86,3.74 425.45,3.16 C428.05,2.58 429.78,1.81 430.65,1.54" stroke="#ea4040" stroke-width="2.5" stroke-dasharray="1 2.3" opacity="0.5"/>
<path d="M386.5,4.31 C388.01,5.47 392.34,9.52 395.59,11.26 C398.84,13 402.51,13.77 405.98,14.73 C409.44,15.7 412.9,16.28 416.37,17.05 C419.83,17.82 422.77,18.75 426.75,19.36 C430.74,19.98 438.01,20.52 440.26,20.75" stroke="#f29a9a" stroke-width="1.2" opacity="0.6"/>
<path d="M386.5,4.31 C388.01,5.47 392.34,9.52 395.59,11.26 C398.84,13 402.51,13.77 405.98,14.73 C409.44,15.7 412.9,16.28 416.37,17.05 C419.83,17.82 422.77,18.75 426.75,19.36 C430.74,19.98 438.01,20.52 440.26,20.75" stroke="#ea4040" stroke-width="2.5" stroke-dasharray="1 2.3" opacity="0.5"/>
<path d="M386.5,16.12 C388.88,15.97 396.67,14.89 400.78,15.2 C404.9,15.5 407.71,17.09 411.17,17.97 C414.63,18.86 416.71,19.79 421.56,20.52 C426.41,21.25 437.14,22.06 440.26,22.37" stroke="#f29a9a" stroke-width="1.2" opacity="0.6"/>
<path d="M386.5,16.12 C388.88,15.97 396.67,14.89 400.78,15.2 C404.9,15.5 407.71,17.09 411.17,17.97 C414.63,18.86 416.71,19.79 421.56,20.52 C426.41,21.25 437.14,22.06 440.26,22.37" stroke="#ea4040" stroke-width="2.5" stroke-dasharray="1 2.3" opacity="0.5"/>
<path d="M386.5,16.12 C388.01,16.35 392.34,17.05 395.59,17.51 C398.84,17.97 402.51,18.4 405.98,18.9 C409.44,19.4 412.9,19.79 416.37,20.52 C419.83,21.25 422.77,22.37 426.75,23.3 C430.74,24.22 438.01,25.61 440.26,26.08" stroke="#f29a9a" stroke-width="1.2" opacity="0.6"/>
<path d="M386.5,16.12 C388.01,16.35 392.34,17.05 395.59,17.51 C398.84,17.97 402.51,18.4 405.98,18.9 C409.44,19.4 412.9,19.79 416.37,20.52 C419.83,21.25 422.77,22.37 426.75,23.3 C430.74,24.22 438.01,25.61 440.26,26.08" stroke="#ea4040" stroke-width="2.5" stroke-dasharray="1 2.3" opacity="0.5"/>
<path d="M386.5,33.25 C388.88,32.75 395.81,31.44 400.78,30.24 C405.76,29.05 412.04,27.12 416.37,26.08 C420.69,25.03 422.77,24.61 426.75,23.99 C430.74,23.38 438.01,22.64 440.26,22.37" stroke="#f29a9a" stroke-width="1.2" opacity="0.6"/>
<path d="M386.5,33.25 C388.88,32.75 395.81,31.44 400.78,30.24 C405.76,29.05 412.04,27.12 416.37,26.08 C420.69,25.03 422.77,24.61 426.75,23.99 C430.74,23.38 438.01,22.64 440.26,22.37" stroke="#ea4040" stroke-width="2.5" stroke-dasharray="1 2.3" opacity="0.5"/>
<path d="M386.5,33.25 C388.88,33.6 395.81,34.8 400.78,35.34 C405.76,35.88 409.79,36.15 416.37,36.49 C422.94,36.84 436.28,37.27 440.26,37.42" stroke="#f29a9a" stroke-width="1.2" opacity="0.6"/>
<path d="M386.5,33.25 C388.88,33.6 395.81,34.8 400.78,35.34 C405.76,35.88 409.79,36.15 416.37,36.49 C422.94,36.84 436.28,37.27 440.26,37.42" stroke="#ea4040" stroke-width="2.5" stroke-dasharray="1 2.3" opacity="0.5"/>
<path d="M440.26,20.52 C441.25,20.56 443.68,20.44 446.23,20.75 C448.78,21.06 452.29,21.83 455.58,22.37 C458.87,22.91 462.51,23.34 465.97,23.99 C469.43,24.65 472.89,25.5 476.36,26.31 C479.82,27.12 483.28,28.04 486.74,28.85 C490.21,29.66 493.76,30.59 497.13,31.17 C500.51,31.75 505.36,32.13 507,32.33" stroke="#f29a9a" stroke-width="1.2" opacity="0.6"/>
<path d="M440.26,20.52 C441.25,20.56 443.68,20.44 446.23,20.75 C448.78,21.06 452.29,21.83 455.58,22.37 C458.87,22.91 462.51,23.34 465.97,23.99 C469.43,24.65 472.89,25.5 476.36,26.31 C479.82,27.12 483.28,28.04 486.74,28.85 C490.21,29.66 493.76,30.59 497.13,31.17 C500.51,31.75 505.36,32.13 507,32.33" stroke="#ea4040" stroke-width="2.5" stroke-dasharray="1 2.3" opacity="0.5"/>
<path d="M440.26,22.6 C441.9,22.64 446.71,22.56 450.13,22.84 C453.55,23.11 457.27,23.68 460.77,24.22 C464.28,24.76 467.7,25.42 471.16,26.08 C474.62,26.73 478.09,27.47 481.55,28.16 C485.01,28.85 488.74,29.66 491.94,30.24 C495.14,30.82 498.26,31.28 500.77,31.63 C503.28,31.98 505.96,32.21 507,32.33" stroke="#f29a9a" stroke-width="1.2" opacity="0.6"/>
<path d="M440.26,22.6 C441.9,22.64 446.71,22.56 450.13,22.84 C453.55,23.11 457.27,23.68 460.77,24.22 C464.28,24.76 467.7,25.42 471.16,26.08 C474.62,26.73 478.09,27.47 481.55,28.16 C485.01,28.85 488.74,29.66 491.94,30.24 C495.14,30.82 498.26,31.28 500.77,31.63 C503.28,31.98 505.96,32.21 507,32.33" stroke="#ea4040" stroke-width="2.5" stroke-dasharray="1 2.3" opacity="0.5"/>
<path d="M440.26,26.54 C441.9,26.62 446.71,26.54 450.13,27 C453.55,27.47 457.27,28.39 460.77,29.32 C464.28,30.24 467.7,31.63 471.16,32.56 C474.62,33.48 478.09,33.99 481.55,34.87 C485.01,35.76 488.52,36.76 491.94,37.88 C495.36,39 499.56,40.78 502.07,41.59 C504.58,42.4 506.18,42.55 507,42.74" stroke="#f29a9a" stroke-width="1.2" opacity="0.6"/>
<path d="M440.26,26.54 C441.9,26.62 446.71,26.54 450.13,27 C453.55,27.47 457.27,28.39 460.77,29.32 C464.28,30.24 467.7,31.63 471.16,32.56 C474.62,33.48 478.09,33.99 481.55,34.87 C485.01,35.76 488.52,36.76 491.94,37.88 C495.36,39 499.56,40.78 502.07,41.59 C504.58,42.4 506.18,42.55 507,42.74" stroke="#ea4040" stroke-width="2.5" stroke-dasharray="1 2.3" opacity="0.5"/>
<path d="M440.26,37.42 C444.54,37.38 460.82,37.03 465.97,37.19 C471.12,37.34 469.43,37.77 471.16,38.35 C472.89,38.92 474.62,39.77 476.36,40.66 C478.09,41.55 479.82,42.71 481.55,43.67 C483.28,44.63 485.01,45.68 486.74,46.45 C488.48,47.22 490.21,47.72 491.94,48.3 C493.67,48.88 494.62,49.38 497.13,49.92 C499.64,50.46 505.36,51.27 507,51.54" stroke="#f29a9a" stroke-width="1.2" opacity="0.6"/>
<path d="M440.26,37.42 C444.54,37.38 460.82,37.03 465.97,37.19 C471.12,37.34 469.43,37.77 471.16,38.35 C472.89,38.92 474.62,39.77 476.36,40.66 C478.09,41.55 479.82,42.71 481.55,43.67 C483.28,44.63 485.01,45.68 486.74,46.45 C488.48,47.22 490.21,47.72 491.94,48.3 C493.67,48.88 494.62,49.38 497.13,49.92 C499.64,50.46 505.36,51.27 507,51.54" stroke="#ea4040" stroke-width="2.5" stroke-dasharray="1 2.3" opacity="0.5"/>
<path d="M507,32.33 C509.86,31.9 519.16,30.82 524.14,29.78 C529.12,28.74 532.62,27.43 536.87,26.08 C541.11,24.73 545.35,23.26 549.59,21.68 C553.83,20.1 558.12,18.09 562.32,16.58 C566.52,15.08 570.8,13.5 574.78,12.65 C578.76,11.8 580.8,11.26 586.21,11.49 C591.62,11.72 601.4,13.27 607.25,14.04 C613.09,14.81 616.94,15.77 621.27,16.12 C625.6,16.47 629.06,16.12 633.22,16.12 C637.37,16.12 644.04,16.12 646.2,16.12" stroke="#f29a9a" stroke-width="1.2" opacity="0.6"/>
<path d="M507,32.33 C509.86,31.9 519.16,30.82 524.14,29.78 C529.12,28.74 532.62,27.43 536.87,26.08 C541.11,24.73 545.35,23.26 549.59,21.68 C553.83,20.1 558.12,18.09 562.32,16.58 C566.52,15.08 570.8,13.5 574.78,12.65 C578.76,11.8 580.8,11.26 586.21,11.49 C591.62,11.72 601.4,13.27 607.25,14.04 C613.09,14.81 616.94,15.77 621.27,16.12 C625.6,16.47 629.06,16.12 633.22,16.12 C637.37,16.12 644.04,16.12 646.2,16.12" stroke="#ea4040" stroke-width="2.5" stroke-dasharray="1 2.3" opacity="0.5"/>
<path d="M507,42.51 C509.86,41.59 519.16,38.73 524.14,36.96 C529.12,35.18 532.62,33.79 536.87,31.86 C541.11,29.93 545.74,27.5 549.59,25.38 C553.44,23.26 556.78,21.45 559.98,19.13 C563.18,16.82 566.04,14.27 568.81,11.49 C571.58,8.71 574.96,4.28 576.6,2.46 C578.25,0.65 578.33,0.92 578.68,0.61" stroke="#f29a9a" stroke-width="1.2" opacity="0.6"/>
<path d="M507,42.51 C509.86,41.59 519.16,38.73 524.14,36.96 C529.12,35.18 532.62,33.79 536.87,31.86 C541.11,29.93 545.74,27.5 549.59,25.38 C553.44,23.26 556.78,21.45 559.98,19.13 C563.18,16.82 566.04,14.27 568.81,11.49 C571.58,8.71 574.96,4.28 576.6,2.46 C578.25,0.65 578.33,0.92 578.68,0.61" stroke="#ea4040" stroke-width="2.5" stroke-dasharray="1 2.3" opacity="0.5"/>
<path d="M507,42.51 C509.86,41.74 519.16,39.43 524.14,37.88 C529.12,36.34 532.62,34.99 536.87,33.25 C541.11,31.52 545.35,29.59 549.59,27.47 C553.83,25.34 558.33,23.22 562.32,20.52 C566.3,17.82 570.11,14.15 573.48,11.26 C576.86,8.37 580.63,4.93 582.57,3.16 C584.52,1.38 584.74,1.04 585.17,0.61" stroke="#f29a9a" stroke-width="1.2" opacity="0.6"/>
<path d="M507,42.51 C509.86,41.74 519.16,39.43 524.14,37.88 C529.12,36.34 532.62,34.99 536.87,33.25 C541.11,31.52 545.35,29.59 549.59,27.47 C553.83,25.34 558.33,23.22 562.32,20.52 C566.3,17.82 570.11,14.15 573.48,11.26 C576.86,8.37 580.63,4.93 582.57,3.16 C584.52,1.38 584.74,1.04 585.17,0.61" stroke="#ea4040" stroke-width="2.5" stroke-dasharray="1 2.3" opacity="0.5"/>
<path d="M507,48.3 C508.78,47.22 513.75,43.71 517.65,41.82 C521.54,39.93 526.13,38 530.37,36.96 C534.62,35.91 539.29,36.22 543.1,35.57 C546.91,34.91 550.02,33.33 553.23,33.02 C556.43,32.71 558.72,33.06 562.32,33.72 C565.91,34.37 570.8,36.45 574.78,36.96 C578.76,37.46 580.8,37.07 586.21,36.73 C591.62,36.38 601.4,35.41 607.25,34.87 C613.09,34.33 614.78,33.79 621.27,33.48 C627.76,33.18 642.04,33.1 646.2,33.02" stroke="#f29a9a" stroke-width="1.2" opacity="0.6"/>
<path d="M507,48.3 C508.78,47.22 513.75,43.71 517.65,41.82 C521.54,39.93 526.13,38 530.37,36.96 C534.62,35.91 539.29,36.22 543.1,35.57 C546.91,34.91 550.02,33.33 553.23,33.02 C556.43,32.71 558.72,33.06 562.32,33.72 C565.91,34.37 570.8,36.45 574.78,36.96 C578.76,37.46 580.8,37.07 586.21,36.73 C591.62,36.38 601.4,35.41 607.25,34.87 C613.09,34.33 614.78,33.79 621.27,33.48 C627.76,33.18 642.04,33.1 646.2,33.02" stroke="#ea4040" stroke-width="2.5" stroke-dasharray="1 2.3" opacity="0.5"/>
<path d="M507,32.33 C508.78,32.4 513.75,32.44 517.65,32.79 C521.54,33.14 526.56,33.75 530.37,34.41 C534.18,35.07 536.26,36.15 540.5,36.73 C544.74,37.3 550.11,37.77 555.82,37.88 C561.54,38 569.72,37.61 574.78,37.42 C579.85,37.23 584.3,36.84 586.21,36.73" stroke="#f29a9a" stroke-width="1.2" opacity="0.6"/>
<path d="M507,32.33 C508.78,32.4 513.75,32.44 517.65,32.79 C521.54,33.14 526.56,33.75 530.37,34.41 C534.18,35.07 536.26,36.15 540.5,36.73 C544.74,37.3 550.11,37.77 555.82,37.88 C561.54,38 569.72,37.61 574.78,37.42 C579.85,37.23 584.3,36.84 586.21,36.73" stroke="#ea4040" stroke-width="2.5" stroke-dasharray="1 2.3" opacity="0.5"/>
<path d="M621.27,33.48 L646.2,34.64" stroke="#f29a9a" stroke-width="1.2" opacity="0.6"/>
<path d="M621.27,33.48 L646.2,34.64" stroke="#ea4040" stroke-width="2.5" stroke-dasharray="1 2.3" opacity="0.5"/>
<path d="M578.68,2.93 C579.93,3.04 579.11,3.5 586.21,3.62 C593.31,3.74 613.43,3.74 621.27,3.62 C629.1,3.5 629.06,3.16 633.22,2.93 C637.37,2.69 644.04,2.35 646.2,2.23" stroke="#f29a9a" stroke-width="1.2" opacity="0.6"/>
<path d="M578.68,2.93 C579.93,3.04 579.11,3.5 586.21,3.62 C593.31,3.74 613.43,3.74 621.27,3.62 C629.1,3.5 629.06,3.16 633.22,2.93 C637.37,2.69 644.04,2.35 646.2,2.23" stroke="#ea4040" stroke-width="2.5" stroke-dasharray="1 2.3" opacity="0.5"/>
<path d="M581.28,4.31 C582.1,4.47 579.54,5.09 586.21,5.24 C592.87,5.4 613.43,5.01 621.27,5.24 C629.1,5.47 629.06,6.21 633.22,6.63 C637.37,7.05 644.04,7.59 646.2,7.79" stroke="#f29a9a" stroke-width="1.2" opacity="0.6"/>
<path d="M581.28,4.31 C582.1,4.47 579.54,5.09 586.21,5.24 C592.87,5.4 613.43,5.01 621.27,5.24 C629.1,5.47 629.06,6.21 633.22,6.63 C637.37,7.05 644.04,7.59 646.2,7.79" stroke="#ea4040" stroke-width="2.5" stroke-dasharray="1 2.3" opacity="0.5"/>
<path d="M583.87,6.63 C584.26,6.67 579.98,6.71 586.21,6.86 C592.44,7.02 613.43,7.13 621.27,7.56 C629.1,7.98 629.06,8.83 633.22,9.41 C637.37,9.99 644.04,10.76 646.2,11.03" stroke="#f29a9a" stroke-width="1.2" opacity="0.6"/>
<path d="M583.87,6.63 C584.26,6.67 579.98,6.71 586.21,6.86 C592.44,7.02 613.43,7.13 621.27,7.56 C629.1,7.98 629.06,8.83 633.22,9.41 C637.37,9.99 644.04,10.76 646.2,11.03" stroke="#ea4040" stroke-width="2.5" stroke-dasharray="1 2.3" opacity="0.5"/>
<path d="M507,50.15 C508.56,50.42 513.06,50.92 516.35,51.77 C519.64,52.62 525.01,54.67 526.74,55.24" stroke="#f29a9a" stroke-width="1.2" opacity="0.6"/>
<path d="M507,50.15 C508.56,50.42 513.06,50.92 516.35,51.77 C519.64,52.62 525.01,54.67 526.74,55.24" stroke="#ea4040" stroke-width="2.5" stroke-dasharray="1 2.3" opacity="0.5"/>
</g>
<rect x="386.5" y="2" width="259.7" height="185.2" fill="none" stroke="#555" stroke-width="1.1"/>
<line x1="386.5" y1="164.05" x2="389" y2="164.05" stroke="#777" stroke-width="0.9"/>
<line x1="643.7" y1="164.05" x2="646.2" y2="164.05" stroke="#777" stroke-width="0.9"/>
<text x="377.9" y="169.65" font-size="11.5" text-anchor="end" fill="#333" stroke="#333" >-2</text>
<line x1="386.5" y1="140.9" x2="389" y2="140.9" stroke="#777" stroke-width="0.9"/>
<line x1="643.7" y1="140.9" x2="646.2" y2="140.9" stroke="#777" stroke-width="0.9"/>
<text x="377.9" y="146.5" font-size="11.5" text-anchor="end" fill="#333" stroke="#333" >-1</text>
<line x1="386.5" y1="117.75" x2="389" y2="117.75" stroke="#777" stroke-width="0.9"/>
<line x1="643.7" y1="117.75" x2="646.2" y2="117.75" stroke="#777" stroke-width="0.9"/>
<text x="377.9" y="123.35" font-size="11.5" text-anchor="end" fill="#333" stroke="#333" >0</text>
<line x1="386.5" y1="94.6" x2="389" y2="94.6" stroke="#777" stroke-width="0.9"/>
<line x1="643.7" y1="94.6" x2="646.2" y2="94.6" stroke="#777" stroke-width="0.9"/>
<text x="377.9" y="100.2" font-size="11.5" text-anchor="end" fill="#333" stroke="#333" >1</text>
<line x1="386.5" y1="71.45" x2="389" y2="71.45" stroke="#777" stroke-width="0.9"/>
<line x1="643.7" y1="71.45" x2="646.2" y2="71.45" stroke="#777" stroke-width="0.9"/>
<text x="377.9" y="77.05" font-size="11.5" text-anchor="end" fill="#333" stroke="#333" >2</text>
<line x1="386.5" y1="48.3" x2="389" y2="48.3" stroke="#777" stroke-width="0.9"/>
<line x1="643.7" y1="48.3" x2="646.2" y2="48.3" stroke="#777" stroke-width="0.9"/>
<text x="377.9" y="53.9" font-size="11.5" text-anchor="end" fill="#333" stroke="#333" >3</text>
<line x1="386.5" y1="25.15" x2="389" y2="25.15" stroke="#777" stroke-width="0.9"/>
<line x1="643.7" y1="25.15" x2="646.2" y2="25.15" stroke="#777" stroke-width="0.9"/>
<text x="377.9" y="30.75" font-size="11.5" text-anchor="end" fill="#333" stroke="#333" >4</text>
<text x="389.5" y="203.7" font-size="11.5" text-anchor="middle" fill="#333" stroke="#333" >W</text>
<text x="443.25" y="203.7" font-size="11.5" text-anchor="middle" fill="#333" stroke="#333" >L</text>
<text x="508.3" y="203.7" font-size="11.5" text-anchor="middle" fill="#333" stroke="#333" >&#915;</text>
<text x="585.95" y="203.7" font-size="11.5" text-anchor="middle" fill="#333" stroke="#333" >X</text>
<text x="621.4" y="203.7" font-size="11.5" text-anchor="middle" fill="#333" stroke="#333" >W</text>
<text x="646.8" y="203.7" font-size="11.5" text-anchor="middle" fill="#333" stroke="#333" >K</text>
<text x="343.8" y="25" font-size="16" text-anchor="start" fill="#333" stroke="#333" >(b)</text>
<text transform="translate(361.2,103.3) rotate(-90)" font-size="12" text-anchor="middle" fill="#333" stroke="#333">Energy (eV)</text>
<path d="M662.6,114.6 L666.3,114.6 Q669.3,114.6 669.3,117.6 L669.3,173.9 Q669.3,176.9 666.3,176.9 L662.6,176.9 M669.3,145.7 L675.7,145.7" fill="none" stroke="#4a7bd0" stroke-width="1.3"/>
<text transform="translate(683.2,153) scale(0.9,1)" font-size="16" fill="#333" stroke="#333">FB1</text>
<line x1="126.31" y1="223.0" x2="126.31" y2="404.4" stroke="#6a6a6a" stroke-width="1.1"/>
<line x1="191.51" y1="223.0" x2="191.51" y2="404.4" stroke="#6a6a6a" stroke-width="1.1"/>
<line x1="269.09" y1="223.0" x2="269.09" y2="404.4" stroke="#6a6a6a" stroke-width="1.1"/>
<line x1="303.93" y1="223.0" x2="303.93" y2="404.4" stroke="#6a6a6a" stroke-width="1.1"/>
<g fill="none" stroke-linecap="butt" clip-path="url(#cc)">
<path d="M73.1,385.89 C81.9,386.2 106.19,387.1 125.93,387.71 C145.66,388.31 174.8,389.52 191.51,389.52 C208.23,389.52 213.29,388.35 226.22,387.71 C239.15,387.07 256.16,386.08 269.09,385.67 C282.02,385.25 293.93,385.21 303.8,385.21 C313.67,385.21 324.22,385.59 328.3,385.67" stroke="#f08080" stroke-width="1.3" opacity="0.6"/>
<path d="M73.1,385.89 C81.9,386.2 106.19,387.1 125.93,387.71 C145.66,388.31 174.8,389.52 191.51,389.52 C208.23,389.52 213.29,388.35 226.22,387.71 C239.15,387.07 256.16,386.08 269.09,385.67 C282.02,385.25 293.93,385.21 303.8,385.21 C313.67,385.21 324.22,385.59 328.3,385.67" stroke="#e83838" stroke-width="2.5" stroke-dasharray="1 2.3" opacity="0.55"/>
<path d="M73.1,391.79 C81.9,391.94 106.19,392.43 125.93,392.69 C145.66,392.96 174.8,393.34 191.51,393.38 C208.23,393.41 213.29,393.07 226.22,392.92 C239.15,392.77 256.16,392.62 269.09,392.47 C282.02,392.32 293.93,392.09 303.8,392.01 C313.67,391.94 324.22,392.01 328.3,392.01" stroke="#f08080" stroke-width="1.3" opacity="0.6"/>
<path d="M73.1,391.79 C81.9,391.94 106.19,392.43 125.93,392.69 C145.66,392.96 174.8,393.34 191.51,393.38 C208.23,393.41 213.29,393.07 226.22,392.92 C239.15,392.77 256.16,392.62 269.09,392.47 C282.02,392.32 293.93,392.09 303.8,392.01 C313.67,391.94 324.22,392.01 328.3,392.01" stroke="#e83838" stroke-width="2.5" stroke-dasharray="1 2.3" opacity="0.55"/>
<path d="M73.1,393.38 C77.35,393.38 89.82,393.22 98.62,393.38 C107.42,393.53 110.44,394.06 125.93,394.28 C141.41,394.51 174.8,394.77 191.51,394.74 C208.23,394.7 213.29,394.24 226.22,394.06 C239.15,393.87 256.16,393.64 269.09,393.6 C282.02,393.56 293.93,393.87 303.8,393.83 C313.67,393.79 324.22,393.45 328.3,393.38" stroke="#f08080" stroke-width="1.3" opacity="0.6"/>
<path d="M73.1,393.38 C77.35,393.38 89.82,393.22 98.62,393.38 C107.42,393.53 110.44,394.06 125.93,394.28 C141.41,394.51 174.8,394.77 191.51,394.74 C208.23,394.7 213.29,394.24 226.22,394.06 C239.15,393.87 256.16,393.64 269.09,393.6 C282.02,393.56 293.93,393.87 303.8,393.83 C313.67,393.79 324.22,393.45 328.3,393.38" stroke="#e83838" stroke-width="2.5" stroke-dasharray="1 2.3" opacity="0.55"/>
<path d="M73.1,396.55 C81.9,396.55 106.19,396.4 125.93,396.55 C145.66,396.7 174.8,397.61 191.51,397.46 C208.23,397.3 213.29,396.25 226.22,395.64 C239.15,395.04 256.16,393.9 269.09,393.83 C282.02,393.75 293.93,394.89 303.8,395.19 C313.67,395.49 324.22,395.57 328.3,395.64" stroke="#f08080" stroke-width="1.3" opacity="0.6"/>
<path d="M73.1,396.55 C81.9,396.55 106.19,396.4 125.93,396.55 C145.66,396.7 174.8,397.61 191.51,397.46 C208.23,397.3 213.29,396.25 226.22,395.64 C239.15,395.04 256.16,393.9 269.09,393.83 C282.02,393.75 293.93,394.89 303.8,395.19 C313.67,395.49 324.22,395.57 328.3,395.64" stroke="#e83838" stroke-width="2.5" stroke-dasharray="1 2.3" opacity="0.55"/>
<path d="M73.1,397.91 C81.9,397.98 106.19,398.14 125.93,398.36 C145.66,398.59 174.8,399.5 191.51,399.27 C208.23,399.04 213.29,397.76 226.22,397 C239.15,396.25 256.16,394.74 269.09,394.74 C282.02,394.74 293.93,396.47 303.8,397 C313.67,397.53 324.22,397.76 328.3,397.91" stroke="#f08080" stroke-width="1.3" opacity="0.6"/>
<path d="M73.1,397.91 C81.9,397.98 106.19,398.14 125.93,398.36 C145.66,398.59 174.8,399.5 191.51,399.27 C208.23,399.04 213.29,397.76 226.22,397 C239.15,396.25 256.16,394.74 269.09,394.74 C282.02,394.74 293.93,396.47 303.8,397 C313.67,397.53 324.22,397.76 328.3,397.91" stroke="#e83838" stroke-width="2.5" stroke-dasharray="1 2.3" opacity="0.55"/>
<path d="M73.1,403.12 C81.9,403.12 106.19,403.24 125.93,403.12 C145.66,403.01 174.8,402.75 191.51,402.44 C208.23,402.14 213.29,401.54 226.22,401.31 C239.15,401.08 256.16,401.05 269.09,401.08 C282.02,401.12 293.93,401.39 303.8,401.54 C313.67,401.69 324.22,401.91 328.3,401.99" stroke="#f08080" stroke-width="1.3" opacity="0.6"/>
<path d="M73.1,403.12 C81.9,403.12 106.19,403.24 125.93,403.12 C145.66,403.01 174.8,402.75 191.51,402.44 C208.23,402.14 213.29,401.54 226.22,401.31 C239.15,401.08 256.16,401.05 269.09,401.08 C282.02,401.12 293.93,401.39 303.8,401.54 C313.67,401.69 324.22,401.91 328.3,401.99" stroke="#e83838" stroke-width="2.5" stroke-dasharray="1 2.3" opacity="0.55"/>
<path d="M191.51,397.46 C195.17,397.23 205.55,396.4 213.46,396.1 C221.37,395.79 231.75,395.26 238.98,395.64 C246.21,396.02 251.83,397.61 256.84,398.36 C261.86,399.12 263.56,399.68 269.09,400.18 C274.62,400.67 284.24,400.86 290.02,401.31 C295.8,401.76 297.42,403.09 303.8,402.9 C310.18,402.71 324.22,400.63 328.3,400.18" stroke="#f08080" stroke-width="1.3" opacity="0.6"/>
<path d="M191.51,397.46 C195.17,397.23 205.55,396.4 213.46,396.1 C221.37,395.79 231.75,395.26 238.98,395.64 C246.21,396.02 251.83,397.61 256.84,398.36 C261.86,399.12 263.56,399.68 269.09,400.18 C274.62,400.67 284.24,400.86 290.02,401.31 C295.8,401.76 297.42,403.09 303.8,402.9 C310.18,402.71 324.22,400.63 328.3,400.18" stroke="#e83838" stroke-width="2.5" stroke-dasharray="1 2.3" opacity="0.55"/>
<path d="M241.53,404.26 C243.23,403.77 248.76,402.18 251.74,401.31 C254.72,400.44 256.5,399.61 259.4,399.04 C262.29,398.48 267.48,398.1 269.09,397.91" stroke="#f08080" stroke-width="1.3" opacity="0.6"/>
<path d="M241.53,404.26 C243.23,403.77 248.76,402.18 251.74,401.31 C254.72,400.44 256.5,399.61 259.4,399.04 C262.29,398.48 267.48,398.1 269.09,397.91" stroke="#e83838" stroke-width="2.5" stroke-dasharray="1 2.3" opacity="0.55"/>
<path d="M226.22,398.36 C228.77,398.59 237.28,399.04 241.53,399.72 C245.79,400.4 249.19,401.69 251.74,402.44 C254.29,403.2 255.99,403.95 256.84,404.26" stroke="#f08080" stroke-width="1.3" opacity="0.6"/>
<path d="M226.22,398.36 C228.77,398.59 237.28,399.04 241.53,399.72 C245.79,400.4 249.19,401.69 251.74,402.44 C254.29,403.2 255.99,403.95 256.84,404.26" stroke="#e83838" stroke-width="2.5" stroke-dasharray="1 2.3" opacity="0.55"/>
<path d="M200.7,404.03 C202.83,403.99 209.21,403.8 213.46,403.8 C217.71,403.8 224.09,403.99 226.22,404.03" stroke="#f08080" stroke-width="1.3" opacity="0.6"/>
<path d="M200.7,404.03 C202.83,403.99 209.21,403.8 213.46,403.8 C217.71,403.8 224.09,403.99 226.22,404.03" stroke="#e83838" stroke-width="2.5" stroke-dasharray="1 2.3" opacity="0.55"/>
<path d="M73.1,336.7 C81.9,336.66 106.19,336.25 125.93,336.47 C145.66,336.7 167.65,337.91 191.51,338.06 C215.37,338.21 250.38,337.49 269.09,337.38 C287.81,337.27 293.93,337.38 303.8,337.38 C313.67,337.38 324.22,337.38 328.3,337.38" stroke="#f29a9a" stroke-width="1.2" opacity="0.6"/>
<path d="M73.1,336.7 C81.9,336.66 106.19,336.25 125.93,336.47 C145.66,336.7 167.65,337.91 191.51,338.06 C215.37,338.21 250.38,337.49 269.09,337.38 C287.81,337.27 293.93,337.38 303.8,337.38 C313.67,337.38 324.22,337.38 328.3,337.38" stroke="#ea4040" stroke-width="2.5" stroke-dasharray="1 2.3" opacity="0.5"/>
<path d="M73.1,361.41 C77.35,360.77 89.82,358.65 98.62,357.56 C107.42,356.46 117.42,356.12 125.93,354.84 C134.43,353.55 142.3,351.81 149.66,349.85 C157.02,347.88 163.1,345.01 170.08,343.05 C177.05,341.08 187.94,338.89 191.51,338.06" stroke="#f29a9a" stroke-width="1.2" opacity="0.6"/>
<path d="M73.1,361.41 C77.35,360.77 89.82,358.65 98.62,357.56 C107.42,356.46 117.42,356.12 125.93,354.84 C134.43,353.55 142.3,351.81 149.66,349.85 C157.02,347.88 163.1,345.01 170.08,343.05 C177.05,341.08 187.94,338.89 191.51,338.06" stroke="#ea4040" stroke-width="2.5" stroke-dasharray="1 2.3" opacity="0.5"/>
<path d="M73.1,361.41 C77.35,362.28 89.82,365.04 98.62,366.62 C107.42,368.21 117.42,369.12 125.93,370.93 C134.43,372.75 142.3,374.71 149.66,377.51 C157.02,380.3 164.55,384.99 170.08,387.71 C175.61,390.43 179.26,392.43 182.84,393.83 C186.41,395.23 190.07,395.72 191.51,396.1" stroke="#f29a9a" stroke-width="1.2" opacity="0.6"/>
<path d="M73.1,361.41 C77.35,362.28 89.82,365.04 98.62,366.62 C107.42,368.21 117.42,369.12 125.93,370.93 C134.43,372.75 142.3,374.71 149.66,377.51 C157.02,380.3 164.55,384.99 170.08,387.71 C175.61,390.43 179.26,392.43 182.84,393.83 C186.41,395.23 190.07,395.72 191.51,396.1" stroke="#ea4040" stroke-width="2.5" stroke-dasharray="1 2.3" opacity="0.5"/>
<path d="M191.51,338.06 C195.17,338.97 205.55,341.08 213.46,343.5 C221.37,345.92 230.9,349.85 238.98,352.57 C247.06,355.29 256.93,358.39 261.95,359.82 C266.97,361.26 264.41,360.96 269.09,361.18 C273.77,361.41 284.24,361.18 290.02,361.18 C295.8,361.18 299.55,361.33 303.8,361.18 C308.05,361.03 311.46,360.58 315.54,360.28 C319.62,359.97 326.17,359.52 328.3,359.37" stroke="#f29a9a" stroke-width="1.2" opacity="0.6"/>
<path d="M191.51,338.06 C195.17,338.97 205.55,341.08 213.46,343.5 C221.37,345.92 230.9,349.85 238.98,352.57 C247.06,355.29 256.93,358.39 261.95,359.82 C266.97,361.26 264.41,360.96 269.09,361.18 C273.77,361.41 284.24,361.18 290.02,361.18 C295.8,361.18 299.55,361.33 303.8,361.18 C308.05,361.03 311.46,360.58 315.54,360.28 C319.62,359.97 326.17,359.52 328.3,359.37" stroke="#ea4040" stroke-width="2.5" stroke-dasharray="1 2.3" opacity="0.5"/>
<path d="M191.51,396.1 C195.17,394.51 205.55,390.43 213.46,386.57 C221.37,382.72 230.9,376.98 238.98,372.97 C247.06,368.97 256.93,364.51 261.95,362.54 C266.97,360.58 264.41,361.41 269.09,361.18 C273.77,360.96 284.24,361.18 290.02,361.18 C295.8,361.18 299.55,360.92 303.8,361.18 C308.05,361.45 311.46,362.32 315.54,362.77 C319.62,363.22 326.17,363.72 328.3,363.9" stroke="#f29a9a" stroke-width="1.2" opacity="0.6"/>
<path d="M191.51,396.1 C195.17,394.51 205.55,390.43 213.46,386.57 C221.37,382.72 230.9,376.98 238.98,372.97 C247.06,368.97 256.93,364.51 261.95,362.54 C266.97,360.58 264.41,361.41 269.09,361.18 C273.77,360.96 284.24,361.18 290.02,361.18 C295.8,361.18 299.55,360.92 303.8,361.18 C308.05,361.45 311.46,362.32 315.54,362.77 C319.62,363.22 326.17,363.72 328.3,363.9" stroke="#ea4040" stroke-width="2.5" stroke-dasharray="1 2.3" opacity="0.5"/>
<path d="M73.1,314.03 C74.46,314.67 78.59,316.67 81.27,317.88 C83.95,319.09 86.54,320.19 89.18,321.28 C91.81,322.38 94.41,323.55 97.09,324.46 C99.77,325.36 102.53,326.08 105.26,326.73 C107.98,327.37 109.98,327.82 113.42,328.31 C116.87,328.8 122.44,328.99 125.93,329.67 C129.41,330.35 132.14,331.37 134.35,332.39 C136.56,333.41 136.64,334.13 139.2,335.79 C141.75,337.46 145.79,340.25 149.66,342.37 C153.53,344.48 157.32,346.56 162.42,348.49 C167.52,350.42 175.44,352.8 180.28,353.93 C185.13,355.06 189.64,355.06 191.51,355.29" stroke="#d4b890" stroke-width="1.3" opacity="0.85"/>
<path d="M73.1,314.03 C74.46,314.67 78.59,316.67 81.27,317.88 C83.95,319.09 86.54,320.19 89.18,321.28 C91.81,322.38 94.41,323.55 97.09,324.46 C99.77,325.36 102.53,326.08 105.26,326.73 C107.98,327.37 109.98,327.82 113.42,328.31 C116.87,328.8 122.44,328.99 125.93,329.67 C129.41,330.35 132.14,331.37 134.35,332.39 C136.56,333.41 136.64,334.13 139.2,335.79 C141.75,337.46 145.79,340.25 149.66,342.37 C153.53,344.48 157.32,346.56 162.42,348.49 C167.52,350.42 175.44,352.8 180.28,353.93 C185.13,355.06 189.64,355.06 191.51,355.29" stroke="#c88060" stroke-width="2.3" stroke-dasharray="1 2.3" opacity="0.45"/>
<path d="M191.51,355.29 C193.89,354.91 201.13,354.23 205.8,353.02 C210.48,351.81 213.97,350.76 219.58,348.03 C225.2,345.31 232.05,341.35 239.49,336.7 C246.93,332.05 260.12,322.91 264.24,320.15" stroke="#d4b890" stroke-width="1.3" opacity="0.85"/>
<path d="M191.51,355.29 C193.89,354.91 201.13,354.23 205.8,353.02 C210.48,351.81 213.97,350.76 219.58,348.03 C225.2,345.31 232.05,341.35 239.49,336.7 C246.93,332.05 260.12,322.91 264.24,320.15" stroke="#c88060" stroke-width="2.3" stroke-dasharray="1 2.3" opacity="0.45"/>
<path d="M73.1,314.03 C74.46,313.46 78.59,311.61 81.27,310.63 C83.95,309.65 86.54,308.82 89.18,308.14 C91.81,307.46 94.41,306.93 97.09,306.55 C99.77,306.17 100.45,306.13 105.26,305.87 C110.06,305.6 120.31,306.02 125.93,304.96 C131.54,303.9 134.48,302.17 138.94,299.52 C143.41,296.88 148.13,292.68 152.72,289.09 C157.32,285.5 161.87,280.97 166.5,277.98 C171.14,275 176.37,272.73 180.54,271.18 C184.71,269.63 189.68,269.11 191.51,268.69" stroke="#d4b890" stroke-width="1.3" opacity="0.85"/>
<path d="M73.1,314.03 C74.46,313.46 78.59,311.61 81.27,310.63 C83.95,309.65 86.54,308.82 89.18,308.14 C91.81,307.46 94.41,306.93 97.09,306.55 C99.77,306.17 100.45,306.13 105.26,305.87 C110.06,305.6 120.31,306.02 125.93,304.96 C131.54,303.9 134.48,302.17 138.94,299.52 C143.41,296.88 148.13,292.68 152.72,289.09 C157.32,285.5 161.87,280.97 166.5,277.98 C171.14,275 176.37,272.73 180.54,271.18 C184.71,269.63 189.68,269.11 191.51,268.69" stroke="#c88060" stroke-width="2.3" stroke-dasharray="1 2.3" opacity="0.45"/>
<path d="M191.51,268.69 C193.85,270.24 200.57,274.58 205.55,277.98 C210.53,281.39 216.1,285.13 221.37,289.09 C226.65,293.06 231.92,298.12 237.19,301.79 C242.47,305.45 248.51,308.06 253.02,311.08 C257.52,314.11 262.37,318.45 264.24,319.92" stroke="#d4b890" stroke-width="1.3" opacity="0.85"/>
<path d="M191.51,268.69 C193.85,270.24 200.57,274.58 205.55,277.98 C210.53,281.39 216.1,285.13 221.37,289.09 C226.65,293.06 231.92,298.12 237.19,301.79 C242.47,305.45 248.51,308.06 253.02,311.08 C257.52,314.11 262.37,318.45 264.24,319.92" stroke="#c88060" stroke-width="2.3" stroke-dasharray="1 2.3" opacity="0.45"/>
<path d="M73.1,294.76 C75.01,294.5 80.76,294.12 84.58,293.17 C88.41,292.23 92.24,290.26 96.07,289.09 C99.9,287.92 104.15,286.9 107.55,286.15 C110.95,285.39 113.42,284.97 116.48,284.56 C119.55,284.14 122.18,284.03 125.93,283.65 C129.67,283.27 134.48,283.01 138.94,282.29 C143.41,281.57 148.13,280.52 152.72,279.34 C157.32,278.17 161.87,276.74 166.5,275.26 C171.14,273.79 176.37,271.6 180.54,270.5 C184.71,269.41 189.68,268.99 191.51,268.69" stroke="#d4b890" stroke-width="1.3" opacity="0.85"/>
<path d="M73.1,294.76 C75.01,294.5 80.76,294.12 84.58,293.17 C88.41,292.23 92.24,290.26 96.07,289.09 C99.9,287.92 104.15,286.9 107.55,286.15 C110.95,285.39 113.42,284.97 116.48,284.56 C119.55,284.14 122.18,284.03 125.93,283.65 C129.67,283.27 134.48,283.01 138.94,282.29 C143.41,281.57 148.13,280.52 152.72,279.34 C157.32,278.17 161.87,276.74 166.5,275.26 C171.14,273.79 176.37,271.6 180.54,270.5 C184.71,269.41 189.68,268.99 191.51,268.69" stroke="#c88060" stroke-width="2.3" stroke-dasharray="1 2.3" opacity="0.45"/>
<path d="M73.1,295.21 C75.01,295.14 80.76,295.21 84.58,294.76 C88.41,294.31 92.24,293.55 96.07,292.49 C99.9,291.44 104.15,289.62 107.55,288.41 C110.95,287.2 113.42,286.03 116.48,285.24 C119.55,284.45 124.35,283.92 125.93,283.65" stroke="#d4b890" stroke-width="1.3" opacity="0.85"/>
<path d="M73.1,295.21 C75.01,295.14 80.76,295.21 84.58,294.76 C88.41,294.31 92.24,293.55 96.07,292.49 C99.9,291.44 104.15,289.62 107.55,288.41 C110.95,287.2 113.42,286.03 116.48,285.24 C119.55,284.45 124.35,283.92 125.93,283.65" stroke="#c88060" stroke-width="2.3" stroke-dasharray="1 2.3" opacity="0.45"/>
<path d="M191.51,268.69 C193.85,269.29 200.57,270.77 205.55,272.32 C210.53,273.87 216.1,275.98 221.37,277.98 C226.65,279.99 231.92,282.52 237.19,284.33 C242.47,286.15 247.66,287.96 253.02,288.87 C258.38,289.77 263.18,289.17 269.35,289.77 C275.52,290.38 284.28,291.66 290.02,292.49 C295.76,293.32 299.55,294.76 303.8,294.76 C308.05,294.76 311.46,293.32 315.54,292.49 C319.62,291.66 326.17,290.23 328.3,289.77" stroke="#c09060" stroke-width="1.6" opacity="0.9"/>
<path d="M191.51,268.69 C193.85,269.29 200.57,270.77 205.55,272.32 C210.53,273.87 216.1,275.98 221.37,277.98 C226.65,279.99 231.92,282.52 237.19,284.33 C242.47,286.15 247.66,287.96 253.02,288.87 C258.38,289.77 263.18,289.17 269.35,289.77 C275.52,290.38 284.28,291.66 290.02,292.49 C295.76,293.32 299.55,294.76 303.8,294.76 C308.05,294.76 311.46,293.32 315.54,292.49 C319.62,291.66 326.17,290.23 328.3,289.77" stroke="#a87048" stroke-width="2.3" stroke-dasharray="1 2.3" opacity="0.5"/>
<path d="M303.8,294.76 C305.76,294.87 311.46,295.37 315.54,295.44 C319.62,295.52 326.17,295.25 328.3,295.21" stroke="#c09060" stroke-width="1.6" opacity="0.9"/>
<path d="M303.8,294.76 C305.76,294.87 311.46,295.37 315.54,295.44 C319.62,295.52 326.17,295.25 328.3,295.21" stroke="#a87048" stroke-width="2.3" stroke-dasharray="1 2.3" opacity="0.5"/>
<path d="M264.24,320.15 C265.1,320.08 265.05,320.42 269.35,319.7 C273.64,318.98 284.28,316.75 290.02,315.84 C295.76,314.94 299.55,314.75 303.8,314.26 C308.05,313.77 311.46,313.24 315.54,312.9 C319.62,312.56 326.17,312.33 328.3,312.22" stroke="#c09060" stroke-width="1.6" opacity="0.9"/>
<path d="M264.24,320.15 C265.1,320.08 265.05,320.42 269.35,319.7 C273.64,318.98 284.28,316.75 290.02,315.84 C295.76,314.94 299.55,314.75 303.8,314.26 C308.05,313.77 311.46,313.24 315.54,312.9 C319.62,312.56 326.17,312.33 328.3,312.22" stroke="#a87048" stroke-width="2.3" stroke-dasharray="1 2.3" opacity="0.5"/>
<path d="M303.8,314.26 C305.76,314.79 311.46,316.67 315.54,317.43 C319.62,318.19 326.17,318.56 328.3,318.79" stroke="#c09060" stroke-width="1.6" opacity="0.9"/>
<path d="M303.8,314.26 C305.76,314.79 311.46,316.67 315.54,317.43 C319.62,318.19 326.17,318.56 328.3,318.79" stroke="#a87048" stroke-width="2.3" stroke-dasharray="1 2.3" opacity="0.5"/>
<path d="M73.1,225.16 C75.65,225.01 81.86,224.67 88.41,224.26 C94.96,223.84 108.4,222.93 112.4,222.67" stroke="#f29a9a" stroke-width="1.2" opacity="0.6"/>
<path d="M73.1,225.16 C75.65,225.01 81.86,224.67 88.41,224.26 C94.96,223.84 108.4,222.93 112.4,222.67" stroke="#ea4040" stroke-width="2.5" stroke-dasharray="1 2.3" opacity="0.5"/>
<path d="M73.1,228.56 C74.8,228.56 79.91,228.68 83.31,228.56 C86.71,228.45 90.54,228.26 93.52,227.88 C96.49,227.51 98.19,226.86 101.17,226.3 C104.15,225.73 108.83,225.05 111.38,224.48 C113.93,223.92 115.63,223.16 116.48,222.9" stroke="#f29a9a" stroke-width="1.2" opacity="0.6"/>
<path d="M73.1,228.56 C74.8,228.56 79.91,228.68 83.31,228.56 C86.71,228.45 90.54,228.26 93.52,227.88 C96.49,227.51 98.19,226.86 101.17,226.3 C104.15,225.73 108.83,225.05 111.38,224.48 C113.93,223.92 115.63,223.16 116.48,222.9" stroke="#ea4040" stroke-width="2.5" stroke-dasharray="1 2.3" opacity="0.5"/>
<path d="M73.1,225.62 C74.59,226.75 78.84,230.72 82.03,232.42 C85.22,234.12 88.84,234.87 92.24,235.82 C95.64,236.76 99.05,237.33 102.45,238.09 C105.85,238.84 108.74,239.75 112.66,240.35 C116.57,240.96 123.71,241.49 125.93,241.71" stroke="#f29a9a" stroke-width="1.2" opacity="0.6"/>
<path d="M73.1,225.62 C74.59,226.75 78.84,230.72 82.03,232.42 C85.22,234.12 88.84,234.87 92.24,235.82 C95.64,236.76 99.05,237.33 102.45,238.09 C105.85,238.84 108.74,239.75 112.66,240.35 C116.57,240.96 123.71,241.49 125.93,241.71" stroke="#ea4040" stroke-width="2.5" stroke-dasharray="1 2.3" opacity="0.5"/>
<path d="M73.1,237.18 C75.44,237.03 83.1,235.97 87.14,236.27 C91.18,236.57 93.94,238.12 97.34,238.99 C100.75,239.86 102.79,240.77 107.55,241.49 C112.32,242.2 122.86,243 125.93,243.3" stroke="#f29a9a" stroke-width="1.2" opacity="0.6"/>
<path d="M73.1,237.18 C75.44,237.03 83.1,235.97 87.14,236.27 C91.18,236.57 93.94,238.12 97.34,238.99 C100.75,239.86 102.79,240.77 107.55,241.49 C112.32,242.2 122.86,243 125.93,243.3" stroke="#ea4040" stroke-width="2.5" stroke-dasharray="1 2.3" opacity="0.5"/>
<path d="M73.1,237.18 C74.59,237.41 78.84,238.09 82.03,238.54 C85.22,238.99 88.84,239.41 92.24,239.9 C95.64,240.39 99.05,240.77 102.45,241.49 C105.85,242.2 108.74,243.3 112.66,244.21 C116.57,245.11 123.71,246.47 125.93,246.93" stroke="#f29a9a" stroke-width="1.2" opacity="0.6"/>
<path d="M73.1,237.18 C74.59,237.41 78.84,238.09 82.03,238.54 C85.22,238.99 88.84,239.41 92.24,239.9 C95.64,240.39 99.05,240.77 102.45,241.49 C105.85,242.2 108.74,243.3 112.66,244.21 C116.57,245.11 123.71,246.47 125.93,246.93" stroke="#ea4040" stroke-width="2.5" stroke-dasharray="1 2.3" opacity="0.5"/>
<path d="M73.1,253.95 C75.44,253.46 82.24,252.18 87.14,251.01 C92.03,249.84 98.19,247.95 102.45,246.93 C106.7,245.91 108.74,245.49 112.66,244.89 C116.57,244.28 123.71,243.56 125.93,243.3" stroke="#f29a9a" stroke-width="1.2" opacity="0.6"/>
<path d="M73.1,253.95 C75.44,253.46 82.24,252.18 87.14,251.01 C92.03,249.84 98.19,247.95 102.45,246.93 C106.7,245.91 108.74,245.49 112.66,244.89 C116.57,244.28 123.71,243.56 125.93,243.3" stroke="#ea4040" stroke-width="2.5" stroke-dasharray="1 2.3" opacity="0.5"/>
<path d="M73.1,253.95 C75.44,254.29 82.24,255.47 87.14,255.99 C92.03,256.52 95.98,256.79 102.45,257.13 C108.91,257.47 122.01,257.88 125.93,258.04" stroke="#f29a9a" stroke-width="1.2" opacity="0.6"/>
<path d="M73.1,253.95 C75.44,254.29 82.24,255.47 87.14,255.99 C92.03,256.52 95.98,256.79 102.45,257.13 C108.91,257.47 122.01,257.88 125.93,258.04" stroke="#ea4040" stroke-width="2.5" stroke-dasharray="1 2.3" opacity="0.5"/>
<path d="M125.93,241.49 C126.9,241.52 129.29,241.41 131.8,241.71 C134.31,242.01 137.75,242.77 140.98,243.3 C144.22,243.83 147.79,244.24 151.19,244.89 C154.59,245.53 158,246.36 161.4,247.15 C164.8,247.95 168.2,248.85 171.61,249.65 C175.01,250.44 178.5,251.35 181.82,251.91 C185.13,252.48 189.9,252.86 191.51,253.05" stroke="#f29a9a" stroke-width="1.2" opacity="0.6"/>
<path d="M125.93,241.49 C126.9,241.52 129.29,241.41 131.8,241.71 C134.31,242.01 137.75,242.77 140.98,243.3 C144.22,243.83 147.79,244.24 151.19,244.89 C154.59,245.53 158,246.36 161.4,247.15 C164.8,247.95 168.2,248.85 171.61,249.65 C175.01,250.44 178.5,251.35 181.82,251.91 C185.13,252.48 189.9,252.86 191.51,253.05" stroke="#ea4040" stroke-width="2.5" stroke-dasharray="1 2.3" opacity="0.5"/>
<path d="M125.93,243.53 C127.54,243.56 132.26,243.49 135.62,243.75 C138.98,244.02 142.64,244.58 146.09,245.11 C149.53,245.64 152.89,246.28 156.3,246.93 C159.7,247.57 163.1,248.29 166.5,248.97 C169.91,249.65 173.56,250.44 176.71,251.01 C179.86,251.57 182.92,252.03 185.39,252.37 C187.85,252.71 190.49,252.93 191.51,253.05" stroke="#f29a9a" stroke-width="1.2" opacity="0.6"/>
<path d="M125.93,243.53 C127.54,243.56 132.26,243.49 135.62,243.75 C138.98,244.02 142.64,244.58 146.09,245.11 C149.53,245.64 152.89,246.28 156.3,246.93 C159.7,247.57 163.1,248.29 166.5,248.97 C169.91,249.65 173.56,250.44 176.71,251.01 C179.86,251.57 182.92,252.03 185.39,252.37 C187.85,252.71 190.49,252.93 191.51,253.05" stroke="#ea4040" stroke-width="2.5" stroke-dasharray="1 2.3" opacity="0.5"/>
<path d="M125.93,247.38 C127.54,247.46 132.26,247.38 135.62,247.83 C138.98,248.29 142.64,249.19 146.09,250.1 C149.53,251.01 152.89,252.37 156.3,253.27 C159.7,254.18 163.1,254.67 166.5,255.54 C169.91,256.41 173.35,257.39 176.71,258.49 C180.07,259.58 184.2,261.32 186.66,262.12 C189.13,262.91 190.7,263.06 191.51,263.25" stroke="#f29a9a" stroke-width="1.2" opacity="0.6"/>
<path d="M125.93,247.38 C127.54,247.46 132.26,247.38 135.62,247.83 C138.98,248.29 142.64,249.19 146.09,250.1 C149.53,251.01 152.89,252.37 156.3,253.27 C159.7,254.18 163.1,254.67 166.5,255.54 C169.91,256.41 173.35,257.39 176.71,258.49 C180.07,259.58 184.2,261.32 186.66,262.12 C189.13,262.91 190.7,263.06 191.51,263.25" stroke="#ea4040" stroke-width="2.5" stroke-dasharray="1 2.3" opacity="0.5"/>
<path d="M125.93,258.04 C130.14,258 146.13,257.66 151.19,257.81 C156.25,257.96 154.59,258.38 156.3,258.94 C158,259.51 159.7,260.34 161.4,261.21 C163.1,262.08 164.8,263.21 166.5,264.16 C168.2,265.1 169.91,266.12 171.61,266.88 C173.31,267.63 175.01,268.12 176.71,268.69 C178.41,269.26 179.35,269.75 181.82,270.28 C184.28,270.81 189.9,271.6 191.51,271.86" stroke="#f29a9a" stroke-width="1.2" opacity="0.6"/>
<path d="M125.93,258.04 C130.14,258 146.13,257.66 151.19,257.81 C156.25,257.96 154.59,258.38 156.3,258.94 C158,259.51 159.7,260.34 161.4,261.21 C163.1,262.08 164.8,263.21 166.5,264.16 C168.2,265.1 169.91,266.12 171.61,266.88 C173.31,267.63 175.01,268.12 176.71,268.69 C178.41,269.26 179.35,269.75 181.82,270.28 C184.28,270.81 189.9,271.6 191.51,271.86" stroke="#ea4040" stroke-width="2.5" stroke-dasharray="1 2.3" opacity="0.5"/>
<path d="M191.51,253.05 C194.32,252.63 203.46,251.57 208.36,250.55 C213.25,249.53 216.69,248.25 220.86,246.93 C225.03,245.6 229.2,244.17 233.37,242.62 C237.53,241.07 241.74,239.11 245.87,237.63 C250,236.16 254.21,234.61 258.12,233.78 C262.03,232.95 264.03,232.42 269.35,232.64 C274.67,232.87 284.28,234.38 290.02,235.14 C295.76,235.89 299.55,236.84 303.8,237.18 C308.05,237.52 311.46,237.18 315.54,237.18 C319.62,237.18 326.17,237.18 328.3,237.18" stroke="#f29a9a" stroke-width="1.2" opacity="0.6"/>
<path d="M191.51,253.05 C194.32,252.63 203.46,251.57 208.36,250.55 C213.25,249.53 216.69,248.25 220.86,246.93 C225.03,245.6 229.2,244.17 233.37,242.62 C237.53,241.07 241.74,239.11 245.87,237.63 C250,236.16 254.21,234.61 258.12,233.78 C262.03,232.95 264.03,232.42 269.35,232.64 C274.67,232.87 284.28,234.38 290.02,235.14 C295.76,235.89 299.55,236.84 303.8,237.18 C308.05,237.52 311.46,237.18 315.54,237.18 C319.62,237.18 326.17,237.18 328.3,237.18" stroke="#ea4040" stroke-width="2.5" stroke-dasharray="1 2.3" opacity="0.5"/>
<path d="M191.51,263.02 C194.32,262.12 203.46,259.32 208.36,257.58 C213.25,255.84 216.69,254.48 220.86,252.59 C225.03,250.71 229.58,248.32 233.37,246.25 C237.15,244.17 240.43,242.39 243.57,240.13 C246.72,237.86 249.53,235.37 252.25,232.64 C254.97,229.92 258.29,225.58 259.91,223.8 C261.52,222.03 261.61,222.29 261.95,221.99" stroke="#f29a9a" stroke-width="1.2" opacity="0.6"/>
<path d="M191.51,263.02 C194.32,262.12 203.46,259.32 208.36,257.58 C213.25,255.84 216.69,254.48 220.86,252.59 C225.03,250.71 229.58,248.32 233.37,246.25 C237.15,244.17 240.43,242.39 243.57,240.13 C246.72,237.86 249.53,235.37 252.25,232.64 C254.97,229.92 258.29,225.58 259.91,223.8 C261.52,222.03 261.61,222.29 261.95,221.99" stroke="#ea4040" stroke-width="2.5" stroke-dasharray="1 2.3" opacity="0.5"/>
<path d="M191.51,263.02 C194.32,262.27 203.46,260 208.36,258.49 C213.25,256.98 216.69,255.65 220.86,253.95 C225.03,252.25 229.2,250.37 233.37,248.29 C237.53,246.21 241.96,244.13 245.87,241.49 C249.78,238.84 253.53,235.25 256.84,232.42 C260.16,229.58 263.86,226.22 265.78,224.48 C267.69,222.75 267.9,222.41 268.33,221.99" stroke="#f29a9a" stroke-width="1.2" opacity="0.6"/>
<path d="M191.51,263.02 C194.32,262.27 203.46,260 208.36,258.49 C213.25,256.98 216.69,255.65 220.86,253.95 C225.03,252.25 229.2,250.37 233.37,248.29 C237.53,246.21 241.96,244.13 245.87,241.49 C249.78,238.84 253.53,235.25 256.84,232.42 C260.16,229.58 263.86,226.22 265.78,224.48 C267.69,222.75 267.9,222.41 268.33,221.99" stroke="#ea4040" stroke-width="2.5" stroke-dasharray="1 2.3" opacity="0.5"/>
<path d="M191.51,268.69 C193.26,267.63 198.15,264.19 201.98,262.34 C205.8,260.49 210.31,258.6 214.48,257.58 C218.65,256.56 223.24,256.86 226.99,256.22 C230.73,255.58 233.79,254.03 236.94,253.73 C240.09,253.43 242.34,253.77 245.87,254.41 C249.4,255.05 254.21,257.09 258.12,257.58 C262.03,258.07 264.03,257.7 269.35,257.36 C274.67,257.01 284.28,256.07 290.02,255.54 C295.76,255.01 297.42,254.48 303.8,254.18 C310.18,253.88 324.22,253.8 328.3,253.73" stroke="#f29a9a" stroke-width="1.2" opacity="0.6"/>
<path d="M191.51,268.69 C193.26,267.63 198.15,264.19 201.98,262.34 C205.8,260.49 210.31,258.6 214.48,257.58 C218.65,256.56 223.24,256.86 226.99,256.22 C230.73,255.58 233.79,254.03 236.94,253.73 C240.09,253.43 242.34,253.77 245.87,254.41 C249.4,255.05 254.21,257.09 258.12,257.58 C262.03,258.07 264.03,257.7 269.35,257.36 C274.67,257.01 284.28,256.07 290.02,255.54 C295.76,255.01 297.42,254.48 303.8,254.18 C310.18,253.88 324.22,253.8 328.3,253.73" stroke="#ea4040" stroke-width="2.5" stroke-dasharray="1 2.3" opacity="0.5"/>
<path d="M191.51,253.05 C193.26,253.12 198.15,253.16 201.98,253.5 C205.8,253.84 210.74,254.45 214.48,255.09 C218.22,255.73 220.27,256.79 224.43,257.36 C228.6,257.92 233.88,258.38 239.49,258.49 C245.1,258.6 253.14,258.22 258.12,258.04 C263.1,257.85 267.48,257.47 269.35,257.36" stroke="#f29a9a" stroke-width="1.2" opacity="0.6"/>
<path d="M191.51,253.05 C193.26,253.12 198.15,253.16 201.98,253.5 C205.8,253.84 210.74,254.45 214.48,255.09 C218.22,255.73 220.27,256.79 224.43,257.36 C228.6,257.92 233.88,258.38 239.49,258.49 C245.1,258.6 253.14,258.22 258.12,258.04 C263.1,257.85 267.48,257.47 269.35,257.36" stroke="#ea4040" stroke-width="2.5" stroke-dasharray="1 2.3" opacity="0.5"/>
<path d="M303.8,254.18 L328.3,255.31" stroke="#f29a9a" stroke-width="1.2" opacity="0.6"/>
<path d="M303.8,254.18 L328.3,255.31" stroke="#ea4040" stroke-width="2.5" stroke-dasharray="1 2.3" opacity="0.5"/>
<path d="M261.95,224.26 C263.18,224.37 262.37,224.82 269.35,224.94 C276.32,225.05 296.1,225.05 303.8,224.94 C311.5,224.82 311.46,224.48 315.54,224.26 C319.62,224.03 326.17,223.69 328.3,223.58" stroke="#f29a9a" stroke-width="1.2" opacity="0.6"/>
<path d="M261.95,224.26 C263.18,224.37 262.37,224.82 269.35,224.94 C276.32,225.05 296.1,225.05 303.8,224.94 C311.5,224.82 311.46,224.48 315.54,224.26 C319.62,224.03 326.17,223.69 328.3,223.58" stroke="#ea4040" stroke-width="2.5" stroke-dasharray="1 2.3" opacity="0.5"/>
<path d="M264.5,225.62 C265.31,225.77 262.8,226.37 269.35,226.52 C275.9,226.67 296.1,226.3 303.8,226.52 C311.5,226.75 311.46,227.47 315.54,227.88 C319.62,228.3 326.17,228.83 328.3,229.02" stroke="#f29a9a" stroke-width="1.2" opacity="0.6"/>
<path d="M264.5,225.62 C265.31,225.77 262.8,226.37 269.35,226.52 C275.9,226.67 296.1,226.3 303.8,226.52 C311.5,226.75 311.46,227.47 315.54,227.88 C319.62,228.3 326.17,228.83 328.3,229.02" stroke="#ea4040" stroke-width="2.5" stroke-dasharray="1 2.3" opacity="0.5"/>
<path d="M267.05,227.88 C267.43,227.92 263.22,227.96 269.35,228.11 C275.47,228.26 296.1,228.38 303.8,228.79 C311.5,229.21 311.46,230.04 315.54,230.6 C319.62,231.17 326.17,231.93 328.3,232.19" stroke="#f29a9a" stroke-width="1.2" opacity="0.6"/>
<path d="M267.05,227.88 C267.43,227.92 263.22,227.96 269.35,228.11 C275.47,228.26 296.1,228.38 303.8,228.79 C311.5,229.21 311.46,230.04 315.54,230.6 C319.62,231.17 326.17,231.93 328.3,232.19" stroke="#ea4040" stroke-width="2.5" stroke-dasharray="1 2.3" opacity="0.5"/>
<path d="M191.51,270.5 C193.04,270.77 197.47,271.26 200.7,272.09 C203.93,272.92 209.21,274.92 210.91,275.49" stroke="#f29a9a" stroke-width="1.2" opacity="0.6"/>
<path d="M191.51,270.5 C193.04,270.77 197.47,271.26 200.7,272.09 C203.93,272.92 209.21,274.92 210.91,275.49" stroke="#ea4040" stroke-width="2.5" stroke-dasharray="1 2.3" opacity="0.5"/>
</g>
<rect x="73.1" y="223" width="255.2" height="181.4" fill="none" stroke="#555" stroke-width="1.1"/>
<line x1="73.1" y1="382.04" x2="75.6" y2="382.04" stroke="#777" stroke-width="0.9"/>
<line x1="325.8" y1="382.04" x2="328.3" y2="382.04" stroke="#777" stroke-width="0.9"/>
<text x="64.5" y="387.64" font-size="11.5" text-anchor="end" fill="#333" stroke="#333" >-2</text>
<line x1="73.1" y1="359.37" x2="75.6" y2="359.37" stroke="#777" stroke-width="0.9"/>
<line x1="325.8" y1="359.37" x2="328.3" y2="359.37" stroke="#777" stroke-width="0.9"/>
<text x="64.5" y="364.97" font-size="11.5" text-anchor="end" fill="#333" stroke="#333" >-1</text>
<line x1="73.1" y1="336.7" x2="75.6" y2="336.7" stroke="#777" stroke-width="0.9"/>
<line x1="325.8" y1="336.7" x2="328.3" y2="336.7" stroke="#777" stroke-width="0.9"/>
<text x="64.5" y="342.3" font-size="11.5" text-anchor="end" fill="#333" stroke="#333" >0</text>
<line x1="73.1" y1="314.03" x2="75.6" y2="314.03" stroke="#777" stroke-width="0.9"/>
<line x1="325.8" y1="314.03" x2="328.3" y2="314.03" stroke="#777" stroke-width="0.9"/>
<text x="64.5" y="319.63" font-size="11.5" text-anchor="end" fill="#333" stroke="#333" >1</text>
<line x1="73.1" y1="291.36" x2="75.6" y2="291.36" stroke="#777" stroke-width="0.9"/>
<line x1="325.8" y1="291.36" x2="328.3" y2="291.36" stroke="#777" stroke-width="0.9"/>
<text x="64.5" y="296.96" font-size="11.5" text-anchor="end" fill="#333" stroke="#333" >2</text>
<line x1="73.1" y1="268.69" x2="75.6" y2="268.69" stroke="#777" stroke-width="0.9"/>
<line x1="325.8" y1="268.69" x2="328.3" y2="268.69" stroke="#777" stroke-width="0.9"/>
<text x="64.5" y="274.29" font-size="11.5" text-anchor="end" fill="#333" stroke="#333" >3</text>
<line x1="73.1" y1="246.02" x2="75.6" y2="246.02" stroke="#777" stroke-width="0.9"/>
<line x1="325.8" y1="246.02" x2="328.3" y2="246.02" stroke="#777" stroke-width="0.9"/>
<text x="64.5" y="251.62" font-size="11.5" text-anchor="end" fill="#333" stroke="#333" >4</text>
<text x="72.5" y="420.9" font-size="11.5" text-anchor="middle" fill="#333" stroke="#333" >W</text>
<text x="126.01" y="420.9" font-size="11.5" text-anchor="middle" fill="#333" stroke="#333" >L</text>
<text x="191.51" y="420.9" font-size="11.5" text-anchor="middle" fill="#333" stroke="#333" >&#915;</text>
<text x="269.09" y="420.9" font-size="11.5" text-anchor="middle" fill="#333" stroke="#333" >X</text>
<text x="303.93" y="420.9" font-size="11.5" text-anchor="middle" fill="#333" stroke="#333" >W</text>
<text x="328.6" y="420.9" font-size="11.5" text-anchor="middle" fill="#333" stroke="#333" >K</text>
<text x="31" y="235.6" font-size="16" text-anchor="start" fill="#333" stroke="#333" >(c)</text>
<text transform="translate(44.6,321.3) rotate(-90)" font-size="12" text-anchor="middle" fill="#333" stroke="#333">Energy (eV)</text>
<path d="M342.9,267.2 L348,267.2 Q351,267.2 351,270.2 L351,354.3 Q351,357.3 348,357.3 L342.9,357.3 M351,312.3 L357.7,312.3" fill="none" stroke="#4a7bd0" stroke-width="1.3"/>
<text transform="translate(364,318.8) scale(0.9,1)" font-size="16" fill="#333" stroke="#333">FB2</text>
<line x1="456.2" y1="319.6" x2="586.1" y2="319.6" stroke="#ddd" stroke-width="1"/>
<line x1="482.8" y1="222.0" x2="482.8" y2="417.0" stroke="#777" stroke-width="1"/>
<line x1="515.7" y1="222.0" x2="515.7" y2="417.0" stroke="#777" stroke-width="1"/>
<line x1="553.3" y1="222.0" x2="553.3" y2="417.0" stroke="#777" stroke-width="1"/>
<line x1="572.5" y1="222.0" x2="572.5" y2="417.0" stroke="#777" stroke-width="1"/>
<path d="M456.2,222.1 C456.75,223.73 458.4,228.6 459.5,231.85 C460.6,235.1 461.72,238.35 462.8,241.6 C463.88,244.85 464.97,248.26 466,251.35 C467.03,254.44 468,257.04 469,260.12 C470,263.21 471.07,266.95 472,269.88 C472.93,272.8 473.77,275.4 474.6,277.68 C475.43,279.95 476.18,282.06 477,283.53 C477.82,284.99 478.58,285.74 479.5,286.45 C480.42,287.17 481.53,287.08 482.5,287.81 C483.47,288.55 484.48,288.71 485.3,290.84 C486.12,292.97 486.72,296.9 487.4,300.59 C488.08,304.28 488.72,309.85 489.4,312.97 C490.08,316.09 490.57,317.88 491.5,319.31 C492.43,320.74 493.58,320.97 495,321.55 C496.42,322.13 497.83,322.41 500,322.82 C502.17,323.22 505.38,323.74 508,323.99 C510.62,324.23 513.03,324.33 515.7,324.28 C518.37,324.23 521.28,323.99 524,323.7 C526.72,323.4 529.83,322.88 532,322.53 C534.17,322.17 535.58,321.84 537,321.55 C538.42,321.26 539.92,320.9 540.5,320.77" fill="none" stroke="#f0943c" stroke-width="1.1"/>
<path d="M540.5,320.77 L553.5,248.43" fill="none" stroke="#f0943c" stroke-width="1.1"/>
<path d="M553.5,248.43 C554.22,247.91 556.37,246.83 557.8,245.31 C559.23,243.78 560.68,241.54 562.1,239.26 C563.52,236.99 565.02,233.85 566.3,231.66 C567.58,229.46 568.78,227.45 569.8,226.1 C570.82,224.75 571.53,223.35 572.4,223.56 C573.27,223.77 574.15,225.59 575,227.37 C575.85,229.14 576.52,232.05 577.5,234.19 C578.48,236.34 579.92,238.74 580.9,240.24 C581.88,241.73 582.55,242.53 583.4,243.16 C584.25,243.79 585.57,243.89 586,244.04" fill="none" stroke="#f0943c" stroke-width="1.1"/>
<path d="M549.7,226.1 L553.5,248.4" fill="none" stroke="#555" stroke-width="1"/>
<path d="M553.5,248.43 C554.22,247.91 556.37,246.83 557.8,245.31 C559.23,243.78 560.68,241.54 562.1,239.26 C563.52,236.99 565.02,233.85 566.3,231.66 C567.58,229.46 568.78,227.45 569.8,226.1 C570.82,224.75 571.97,223.99 572.4,223.56" fill="none" stroke="#4a4030" stroke-width="0.9"/>
<path d="M456.2,321.06 C457.67,320.9 462.03,320.33 465,320.09 C467.97,319.84 471.03,319.73 474,319.6 C476.97,319.47 479.8,319.23 482.8,319.31 C485.8,319.39 489.13,319.55 492,320.09 C494.87,320.62 497.33,321.6 500,322.53 C502.67,323.45 505.38,324.83 508,325.65 C510.62,326.46 513.03,327.4 515.7,327.4 C518.37,327.4 521.28,326.46 524,325.65 C526.72,324.83 529.17,323.37 532,322.53 C534.83,321.68 537.45,321.06 541,320.58 C544.55,320.09 549.8,319.68 553.3,319.6 C556.8,319.52 558.8,319.93 562,320.09 C565.2,320.25 568.48,320.74 572.5,320.58 C576.52,320.41 583.83,319.36 586.1,319.11" fill="none" stroke="#46d4d0" stroke-width="1.1"/>
<path d="M456.2,321.75 C457,321.84 459.37,322.04 461,322.33 C462.63,322.62 464.17,323.55 466,323.5 C467.83,323.45 470,322.61 472,322.04 C474,321.47 476.2,320.54 478,320.09 C479.8,319.63 481.13,319.31 482.8,319.31 C484.47,319.31 486.6,319.84 488,320.09 C489.4,320.33 490.2,318.58 491.2,320.77 C492.2,322.96 493.03,328.57 494,333.25 C494.97,337.93 496.12,344.46 497,348.85 C497.88,353.24 498.92,357.79 499.3,359.58" fill="none" stroke="#ee3ce8" stroke-width="1.1"/>
<path d="M499.3,359.58 C499.92,357.46 501.63,350.96 503,346.9 C504.37,342.84 506.17,338.13 507.5,335.2 C508.83,332.28 509.63,330.65 511,329.35 C512.37,328.05 514.2,327.4 515.7,327.4 C517.2,327.4 518.62,328.05 520,329.35 C521.38,330.65 522.58,332.28 524,335.2 C525.42,338.13 527.13,342.84 528.5,346.9 C529.87,350.96 531.58,357.46 532.2,359.58" fill="none" stroke="#ee3ce8" stroke-width="1.1"/>
<path d="M532.2,359.58 C532.67,357.79 534.03,353.24 535,348.85 C535.97,344.46 536.97,337.83 538,333.25 C539.03,328.67 539.87,323.55 541.2,321.36 C542.53,319.16 543.98,320.38 546,320.09 C548.02,319.8 550.63,319.52 553.3,319.6 C555.97,319.68 558.8,320.28 562,320.58 C565.2,320.87 569.67,321.13 572.5,321.36 C575.33,321.58 576.73,321.71 579,321.94 C581.27,322.17 584.92,322.59 586.1,322.72" fill="none" stroke="#ee3ce8" stroke-width="1.1"/>
<path d="M460.6,417.1 C461.33,416.12 463.43,413.2 465,411.25 C466.57,409.3 468.17,407.03 470,405.4 C471.83,403.78 473.87,402.48 476,401.5 C478.13,400.52 480.97,400.85 482.8,399.55 C484.63,398.25 485.47,396.95 487,393.7 C488.53,390.45 490.5,384.28 492,380.05 C493.5,375.82 494.78,371.36 496,368.35 C497.22,365.34 498.75,363.07 499.3,362.01" fill="none" stroke="#a8b448" stroke-width="1.1"/>
<path d="M499.3,362.01 C499.92,363.88 501.72,369.24 503,373.23 C504.28,377.21 505.67,382.16 507,385.9 C508.33,389.64 509.55,393.29 511,395.65 C512.45,398.01 514.2,400.04 515.7,400.04 C517.2,400.04 518.62,398.01 520,395.65 C521.38,393.29 522.58,389.64 524,385.9 C525.42,382.16 527.13,377.21 528.5,373.23 C529.87,369.24 531.58,363.88 532.2,362.01" fill="none" stroke="#a8b448" stroke-width="1.1"/>
<path d="M532.2,362.01 C533,364.69 535.37,372.82 537,378.1 C538.63,383.38 540.42,388.99 542,393.7 C543.58,398.41 545.05,402.48 546.5,406.38 C547.95,410.27 550,415.31 550.7,417.1" fill="none" stroke="#a8b448" stroke-width="1.1"/>
<rect x="456.2" y="222.0" width="129.9" height="195" fill="none" stroke="#999" stroke-width="1.5"/>
<line x1="453.2" y1="417.1" x2="456.2" y2="417.1" stroke="#444" stroke-width="1"/>
<line x1="453.2" y1="397.6" x2="456.2" y2="397.6" stroke="#444" stroke-width="1"/>
<line x1="453.2" y1="378.1" x2="456.2" y2="378.1" stroke="#444" stroke-width="1"/>
<line x1="453.2" y1="358.6" x2="456.2" y2="358.6" stroke="#444" stroke-width="1"/>
<line x1="453.2" y1="339.1" x2="456.2" y2="339.1" stroke="#444" stroke-width="1"/>
<line x1="453.2" y1="319.6" x2="456.2" y2="319.6" stroke="#444" stroke-width="1"/>
<line x1="453.2" y1="300.1" x2="456.2" y2="300.1" stroke="#444" stroke-width="1"/>
<line x1="453.2" y1="280.6" x2="456.2" y2="280.6" stroke="#444" stroke-width="1"/>
<line x1="453.2" y1="261.1" x2="456.2" y2="261.1" stroke="#444" stroke-width="1"/>
<line x1="453.2" y1="241.6" x2="456.2" y2="241.6" stroke="#444" stroke-width="1"/>
<line x1="453.2" y1="222.1" x2="456.2" y2="222.1" stroke="#444" stroke-width="1"/>
<text x="448.2" y="225.8" font-size="11.8" text-anchor="end" fill="#333" stroke="#333" >1.0</text>
<text x="448.2" y="324.6" font-size="11.8" text-anchor="end" fill="#333" stroke="#333" >0.0</text>
<text x="449.2" y="419.6" font-size="11.8" text-anchor="end" fill="#333" stroke="#333" >-1.0</text>
<text x="457.5" y="432.2" font-size="11.5" text-anchor="middle" fill="#333" stroke="#333" >W</text>
<text x="479.7" y="432.2" font-size="11.5" text-anchor="middle" fill="#333" stroke="#333" >L</text>
<text x="515.7" y="432.2" font-size="11.5" text-anchor="middle" fill="#333" stroke="#333" >&#915;</text>
<text x="553.5" y="432.2" font-size="11.5" text-anchor="middle" fill="#333" stroke="#333" >X</text>
<text x="572.8" y="432.2" font-size="11.5" text-anchor="middle" fill="#333" stroke="#333" >W</text>
<text x="588.8" y="432.2" font-size="11.5" text-anchor="middle" fill="#333" stroke="#333" >K</text>
<text x="399.3" y="232.3" font-size="16" text-anchor="start" fill="#333" stroke="#333" >(d)</text>
<text transform="translate(421.6,319) rotate(-90)" font-size="12" text-anchor="middle" fill="#333" stroke="#333">Energy (eV)</text>
<text x="502.0" y="316.6" font-family="Liberation Serif, serif" font-size="13.5" fill="#e8302c" stroke="#e8302c">&#915;<tspan font-size="9.5" dy="2.2">7</tspan></text>
<text x="502.0" y="337.6" font-family="Liberation Serif, serif" font-size="13.5" fill="#3a7cc8" stroke="#3a7cc8">&#915;<tspan font-size="9.5" dy="2.2">8</tspan></text>
<text x="593.0" y="324.4" font-size="12" fill="#333" stroke="#333">E<tspan font-size="8.2" dy="2.2">F</tspan></text>
</svg></body></html>
